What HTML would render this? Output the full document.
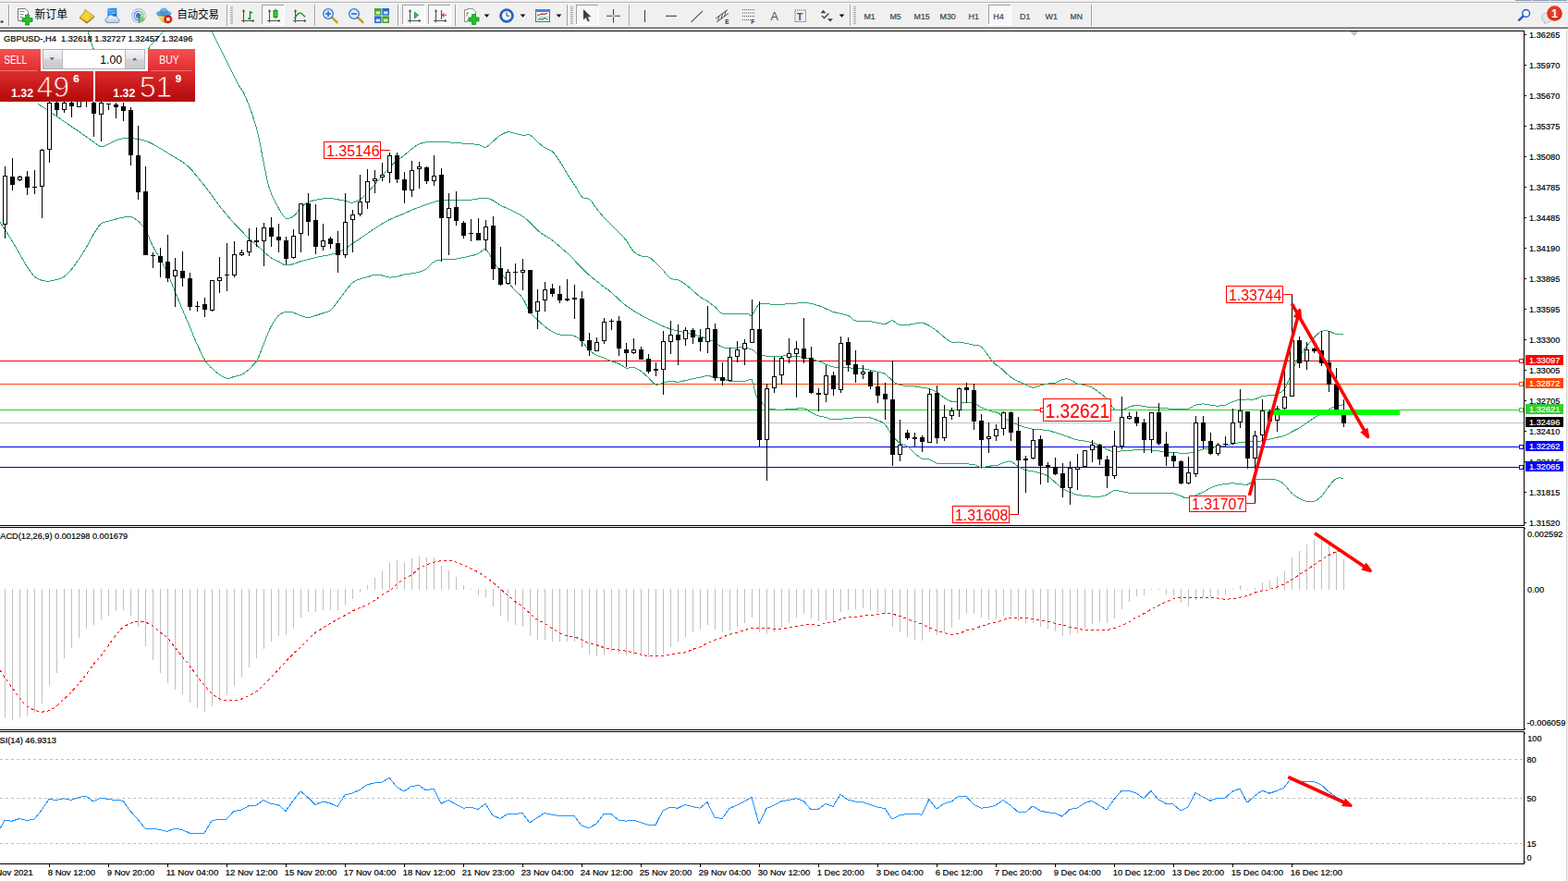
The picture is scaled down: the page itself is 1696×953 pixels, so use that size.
<!DOCTYPE html>
<html><head><meta charset="utf-8"><title>GBPUSD-,H4</title>
<style>
html,body{margin:0;padding:0;background:#fff;overflow:hidden}
body{width:1696px;height:953px;font-family:"Liberation Sans",sans-serif}
svg{display:block;position:absolute;left:0;top:0}
text{font-family:"Liberation Sans",sans-serif;white-space:pre}
</style></head><body>
<svg width="1696" height="953" viewBox="0 0 1696 953">
<rect x="0" y="0" width="1696" height="953" fill="#ffffff"/>
<!-- chart -->
<g shape-rendering="crispEdges">
<rect x="0" y="457" width="1648" height="1" fill="#c0c0c0"/>
<rect x="0" y="390" width="1648" height="1" fill="#ff0000"/>
<rect x="0" y="415" width="1648" height="1" fill="#ff4500"/>
<rect x="0" y="443" width="1118" height="1" fill="#32cd32"/>
<rect x="1202" y="443" width="446" height="1" fill="#32cd32"/>
<rect x="0" y="483" width="1648" height="1" fill="#0000f0"/>
<rect x="0" y="505" width="1648" height="1" fill="#0000f0"/>
</g>
<g fill="none" stroke="#2aa565" stroke-width="1" shape-rendering="crispEdges">
<path d="M263.4,100.0 C264.5,102.7 268.2,110.9 270.2,116.4 C272.2,121.8 274.0,127.3 275.7,132.8 C277.3,138.2 277.6,137.8 280.0,149.1 C282.5,160.5 287.1,188.7 290.5,201.0 C293.8,213.2 296.9,217.0 300.0,222.8 C303.1,228.6 306.1,234.1 309.0,235.9 C312.0,237.7 315.2,235.4 317.8,233.7 C320.4,232.0 322.0,228.0 324.6,225.5 C327.2,223.0 329.7,220.4 333.3,218.7 C337.0,217.0 342.4,216.1 346.4,215.4 C350.4,214.7 352.9,214.3 357.3,214.6 C361.8,214.9 369.2,216.6 373.2,217.3 C377.1,218.1 378.4,219.5 381.1,219.2 C383.7,219.0 386.3,217.7 389.0,216.0 C391.7,214.3 394.5,211.9 397.2,209.2 C399.9,206.4 402.5,202.7 405.1,199.6 C407.7,196.5 410.4,193.5 413.0,190.6 C415.6,187.6 418.2,184.7 420.9,181.9 C423.6,179.0 426.4,175.9 429.1,173.7 C431.8,171.4 434.4,170.3 437.0,168.2 C439.7,166.2 442.3,163.4 444.9,161.4 C447.6,159.3 450.4,157.2 453.1,155.9 C455.8,154.7 457.0,154.2 461.1,153.7 C465.1,153.3 470.7,153.2 477.4,153.5 C484.1,153.7 494.6,154.6 501.2,155.1 C507.8,155.6 513.0,155.8 517.0,156.5 C521.0,157.2 522.5,159.7 525.2,159.2 C527.9,158.7 530.5,155.3 533.1,153.2 C535.7,151.1 538.3,148.1 541.0,146.4 C543.7,144.7 546.4,143.2 549.2,142.8 C552.0,142.5 555.1,143.8 557.8,144.4 C560.5,144.9 562.7,145.9 565.3,146.2 C567.9,146.6 570.7,145.0 573.4,146.2 C576.0,147.5 578.6,151.2 581.4,153.5 C584.1,155.8 587.2,158.4 589.9,160.1 C592.6,161.9 594.8,161.4 597.4,163.9 C600.1,166.4 603.3,171.2 605.9,175.2 C608.6,179.3 612.0,185.5 613.5,188.0 C614.9,190.5 613.1,187.6 614.6,190.0 C616.2,192.4 620.3,198.4 622.8,202.3 C625.3,206.1 627.1,210.9 629.6,213.2 C632.1,215.5 635.2,213.9 637.8,215.9 C640.4,218.0 642.6,222.3 645.2,225.5 C647.7,228.7 650.5,232.1 653.1,235.0 C655.7,238.0 658.3,240.5 661.0,243.2 C663.7,245.9 666.5,248.7 669.2,251.4 C671.9,254.1 674.5,256.2 677.1,259.6 C679.7,263.0 682.3,269.0 685.0,271.9 C687.7,274.7 690.5,275.8 693.2,276.8 C695.9,277.8 698.5,276.7 701.1,277.9 C703.8,279.1 706.4,281.7 709.0,284.2 C711.7,286.6 714.5,289.5 717.2,292.4 C719.9,295.2 722.5,299.4 725.1,301.1 C727.8,302.8 730.4,301.7 733.1,302.7 C735.7,303.8 738.6,305.5 741.2,307.4 C743.9,309.3 746.5,311.9 749.2,314.2 C751.8,316.5 754.4,319.0 757.1,321.0 C759.8,323.0 762.6,324.1 765.3,325.9 C767.9,327.7 770.5,329.7 773.2,331.9 C775.8,334.1 778.4,338.1 781.1,339.3 C783.8,340.5 785.3,339.3 789.3,339.3 C793.3,339.3 801.7,339.2 805.1,339.3 C808.6,339.4 808.6,339.9 810.0,340.1 C811.4,340.3 811.8,342.4 813.6,340.6 C815.5,338.7 818.5,331.1 821.0,329.1 C823.6,327.1 825.6,328.5 828.9,328.6 C832.2,328.7 836.7,329.6 840.9,329.6 C845.2,329.6 849.1,328.9 854.6,328.6 C860.0,328.2 868.2,327.3 873.7,327.7 C879.1,328.2 882.8,329.7 887.3,331.3 C891.9,332.9 896.0,335.6 901.0,337.3 C906.0,339.0 913.4,339.8 917.4,341.4 C921.4,343.0 921.0,345.8 925.0,346.8 C929.0,347.9 935.8,347.1 941.1,347.7 C946.4,348.3 952.9,350.5 956.9,350.4 C960.9,350.3 962.4,346.7 965.1,346.8 C967.8,347.0 969.6,350.8 973.0,351.5 C976.4,352.2 981.6,351.3 985.6,350.9 C989.6,350.5 993.8,348.8 997.0,349.0 C1000.3,349.3 1002.3,350.8 1005.0,352.3 C1007.7,353.8 1010.5,355.7 1013.2,357.8 C1015.8,359.8 1018.4,362.5 1021.1,364.6 C1023.7,366.6 1026.3,369.1 1029.0,370.0 C1031.7,370.9 1034.5,369.8 1037.2,370.0 C1039.9,370.3 1042.5,370.9 1045.1,371.4 C1047.7,372.0 1050.3,372.7 1053.0,373.3 C1055.7,373.9 1058.5,373.0 1061.2,375.0 C1063.9,376.9 1066.5,381.8 1069.1,385.1 C1071.7,388.3 1075.2,392.8 1077.0,394.6 C1078.8,396.4 1077.4,393.8 1080.0,396.0 C1082.7,398.2 1089.4,405.0 1092.9,407.7 C1096.4,410.4 1098.4,411.0 1101.1,412.4 C1103.8,413.7 1106.4,414.8 1109.0,415.9 C1111.7,417.0 1114.3,419.0 1116.9,419.2 C1119.6,419.4 1122.4,417.7 1125.1,417.0 C1127.8,416.3 1130.4,415.5 1133.0,415.1 C1135.7,414.6 1138.3,415.0 1141.0,414.3 C1143.6,413.5 1146.5,411.1 1149.2,410.4 C1151.8,409.8 1154.4,409.7 1157.1,410.4 C1159.7,411.2 1162.3,414.1 1165.0,415.1 C1167.7,416.1 1170.5,415.8 1173.2,416.4 C1175.9,417.1 1178.4,417.8 1181.1,419.2 C1183.7,420.5 1186.3,422.6 1189.0,424.6 C1191.7,426.7 1194.5,428.5 1197.2,431.4 C1199.9,434.4 1202.5,440.3 1205.1,442.4 C1207.7,444.4 1210.4,444.0 1213.0,443.7 C1215.6,443.4 1218.2,441.4 1220.9,440.5 C1223.6,439.6 1226.4,438.4 1229.1,438.3 C1231.8,438.1 1234.4,439.3 1237.0,439.6 C1239.7,440.0 1242.3,440.2 1245.0,440.5 C1247.6,440.7 1250.4,440.8 1253.1,441.0 C1255.8,441.2 1258.4,441.6 1261.0,441.8 C1263.7,442.0 1266.3,442.2 1269.0,442.4 C1271.6,442.6 1274.5,442.9 1277.2,442.9 C1279.8,442.9 1282.4,443.1 1285.1,442.4 C1287.7,441.6 1290.3,439.2 1293.0,438.3 C1295.7,437.4 1298.5,436.9 1301.2,436.9 C1303.9,436.9 1306.4,437.9 1309.1,438.3 C1311.7,438.6 1314.3,439.1 1317.0,439.1 C1319.7,439.1 1322.5,439.0 1325.2,438.3 C1327.9,437.6 1330.5,435.7 1333.1,434.7 C1335.7,433.7 1338.3,432.7 1341.0,432.3 C1343.7,431.8 1346.5,432.1 1349.2,432.0 C1351.9,431.9 1354.5,432.4 1357.1,431.8 C1359.8,431.3 1362.4,429.5 1365.0,428.8 C1367.7,428.1 1370.3,428.1 1373.0,427.7 C1375.6,427.3 1378.5,427.4 1381.1,426.4 C1383.8,425.3 1387.0,423.9 1389.0,421.4 C1391.1,419.0 1392.0,415.8 1393.7,411.9 C1395.4,408.0 1397.3,402.6 1399.2,398.2 C1401.0,393.9 1402.6,389.8 1404.9,386.0 C1407.2,382.1 1410.4,378.5 1413.1,375.1 C1415.8,371.6 1418.3,368.2 1421.0,365.5 C1423.6,362.8 1426.2,359.9 1428.9,358.7 C1431.6,357.5 1434.4,357.7 1437.1,358.1 C1439.8,358.6 1442.4,360.9 1445.0,361.4 C1447.6,362.0 1451.6,361.4 1452.9,361.4"/>
<path d="M40.9,112.3 C43.0,113.6 48.8,117.3 53.5,120.5 C58.2,123.7 64.0,127.8 69.3,131.4 C74.6,135.0 80.1,138.6 85.4,142.3 C90.8,146.0 97.5,151.0 101.5,153.8 C105.5,156.5 106.8,158.3 109.4,158.7 C112.1,159.0 114.7,157.1 117.4,155.9 C120.0,154.8 122.9,152.9 125.5,151.9 C128.2,150.8 130.8,150.0 133.5,149.7 C136.1,149.3 138.7,149.5 141.4,149.7 C144.1,149.8 146.9,150.0 149.6,150.5 C152.2,150.9 154.8,151.5 157.5,152.4 C160.1,153.3 162.8,154.6 165.4,155.9 C168.0,157.3 170.6,159.0 173.3,160.6 C176.0,162.2 178.8,163.9 181.5,165.5 C184.2,167.1 186.8,168.8 189.4,170.4 C192.0,172.0 194.6,173.1 197.3,175.1 C200.0,177.0 202.8,179.2 205.5,181.9 C208.2,184.6 210.8,188.2 213.4,191.4 C216.1,194.6 218.7,197.6 221.3,201.0 C224.0,204.4 226.8,208.3 229.5,211.9 C232.2,215.5 234.8,219.4 237.4,222.8 C240.1,226.2 242.7,229.2 245.4,232.4 C248.0,235.6 250.9,239.0 253.6,241.9 C256.2,244.9 258.8,247.4 261.5,250.1 C264.1,252.8 266.7,255.8 269.4,258.3 C272.1,260.8 275.0,262.9 277.6,265.1 C280.2,267.4 282.4,269.7 285.0,271.9 C287.6,274.2 290.2,276.9 292.9,278.7 C295.6,280.6 298.4,281.5 301.1,282.8 C303.8,284.2 306.4,286.5 309.0,286.9 C311.7,287.4 314.3,286.3 316.9,285.6 C319.6,284.9 321.1,284.0 325.1,282.8 C329.1,281.7 335.6,280.0 341.0,278.7 C346.3,277.5 353.1,276.4 357.1,275.5 C361.1,274.6 362.3,274.3 365.0,273.3 C367.7,272.2 370.5,270.8 373.2,269.2 C375.9,267.6 378.4,265.5 381.1,263.7 C383.7,261.9 385.0,261.0 389.0,258.3 C393.0,255.6 399.8,250.8 405.1,247.4 C410.4,243.9 415.6,240.5 420.9,237.8 C426.3,235.1 431.7,233.3 437.0,231.0 C442.4,228.7 447.8,226.2 453.1,224.2 C458.5,222.1 465.0,219.9 469.0,218.7 C473.0,217.5 473.1,217.1 477.1,216.8 C481.2,216.5 487.7,216.9 493.0,216.8 C498.3,216.7 503.7,216.7 509.1,216.2 C514.4,215.8 521.2,214.0 525.2,214.1 C529.2,214.2 530.5,215.5 533.1,216.8 C535.7,218.1 538.3,220.5 541.0,222.0 C543.7,223.4 546.5,224.3 549.2,225.5 C551.9,226.8 554.4,228.2 557.0,229.6 C559.6,230.9 562.2,231.8 564.9,233.7 C567.6,235.5 570.4,238.0 573.1,240.5 C575.8,243.0 578.4,246.3 581.0,248.7 C583.7,251.0 586.3,252.9 589.0,254.7 C591.6,256.5 594.5,257.6 597.1,259.6 C599.8,261.6 602.4,264.1 605.0,266.4 C607.7,268.7 610.3,270.7 613.0,273.2 C615.7,275.7 618.5,278.7 621.2,281.4 C623.8,284.2 626.4,287.0 629.1,289.6 C631.7,292.3 634.3,294.9 637.0,297.3 C639.7,299.7 642.5,301.9 645.2,304.1 C647.9,306.2 650.5,308.1 653.1,310.1 C655.7,312.1 658.3,313.8 661.0,316.1 C663.7,318.4 666.5,321.3 669.2,323.7 C671.9,326.1 674.5,328.5 677.1,330.6 C679.7,332.6 682.3,334.3 685.0,336.0 C687.7,337.7 690.5,339.4 693.2,340.9 C695.9,342.4 698.5,343.7 701.1,345.0 C703.8,346.4 706.4,347.8 709.0,349.1 C711.7,350.4 714.5,351.8 717.2,352.9 C719.9,354.1 722.5,355.1 725.1,355.9 C727.8,356.8 730.4,357.2 733.1,357.9 C735.7,358.5 738.6,359.1 741.2,359.8 C743.9,360.4 746.5,361.3 749.2,361.9 C751.8,362.6 754.4,363.0 757.1,363.9 C759.8,364.7 762.6,365.8 765.3,366.9 C767.9,367.9 770.5,368.7 773.2,370.1 C775.8,371.6 778.4,374.5 781.1,375.6 C783.8,376.7 786.6,376.9 789.3,376.9 C792.0,377.0 794.6,376.3 797.2,376.1 C799.8,376.0 802.4,375.8 805.1,376.1 C807.9,376.5 811.0,377.0 813.6,378.2 C816.3,379.5 817.1,382.4 821.0,383.7 C824.9,385.0 833.1,385.6 837.1,385.9 C841.1,386.1 842.1,385.2 845.0,385.1 C847.9,384.9 850.6,384.8 854.6,385.1 C858.6,385.3 864.0,385.5 869.0,386.4 C874.1,387.3 879.6,388.8 884.9,390.5 C890.2,392.2 895.6,395.6 901.0,396.8 C906.3,398.0 911.8,397.6 917.1,397.9 C922.4,398.2 927.6,398.0 932.9,398.7 C938.2,399.4 945.0,401.3 949.0,402.2 C953.0,403.2 954.2,402.6 956.9,404.2 C959.6,405.7 962.4,409.5 965.1,411.5 C967.8,413.6 969.0,415.4 973.0,416.4 C977.0,417.5 985.1,417.4 989.1,417.8 C993.1,418.3 994.4,418.7 997.0,419.2 C999.7,419.6 1002.3,419.7 1005.0,420.5 C1007.7,421.3 1010.5,422.5 1013.2,424.1 C1015.8,425.7 1018.4,428.4 1021.1,430.1 C1023.7,431.8 1026.3,433.4 1029.0,434.2 C1031.7,435.0 1034.5,434.8 1037.2,435.0 C1039.9,435.2 1042.5,435.4 1045.1,435.6 C1047.7,435.7 1050.3,435.3 1053.0,436.1 C1055.7,436.9 1058.5,439.2 1061.2,440.5 C1063.9,441.7 1066.5,442.8 1069.1,443.7 C1071.7,444.6 1075.2,445.5 1077.0,445.9 C1078.8,446.4 1078.7,445.5 1080.0,446.5 C1081.4,447.4 1082.9,449.8 1085.0,451.4 C1087.2,453.0 1090.2,454.7 1092.9,456.0 C1095.6,457.4 1098.4,458.5 1101.1,459.6 C1103.8,460.6 1106.4,461.5 1109.0,462.3 C1111.7,463.1 1114.3,463.8 1116.9,464.2 C1119.6,464.6 1122.4,464.5 1125.1,464.8 C1127.8,465.0 1130.4,465.1 1133.0,465.6 C1135.7,466.1 1138.3,466.9 1141.0,467.8 C1143.6,468.6 1146.5,469.6 1149.2,470.5 C1151.8,471.4 1154.4,472.3 1157.1,473.2 C1159.7,474.1 1162.3,475.3 1165.0,475.9 C1167.7,476.6 1170.5,476.6 1173.2,477.0 C1175.9,477.5 1178.4,477.9 1181.1,478.7 C1183.7,479.5 1186.3,480.7 1189.0,481.9 C1191.7,483.2 1194.5,484.9 1197.2,486.0 C1199.9,487.2 1202.5,488.5 1205.1,488.8 C1207.7,489.1 1210.4,488.2 1213.0,487.9 C1215.6,487.7 1218.2,487.6 1220.9,487.4 C1223.6,487.2 1226.4,486.8 1229.1,486.6 C1231.8,486.4 1234.4,486.0 1237.0,486.0 C1239.7,486.1 1242.3,486.5 1245.0,486.9 C1247.6,487.2 1250.4,487.6 1253.1,487.9 C1255.8,488.3 1258.4,488.5 1261.0,488.8 C1263.7,489.0 1266.3,489.4 1269.0,489.6 C1271.6,489.8 1274.5,490.0 1277.2,490.1 C1279.8,490.2 1282.4,490.4 1285.1,490.1 C1287.7,489.9 1290.3,489.5 1293.0,488.8 C1295.7,488.1 1298.5,486.7 1301.2,486.0 C1303.9,485.4 1306.4,485.1 1309.1,484.7 C1311.7,484.2 1314.3,483.8 1317.0,483.3 C1319.7,482.9 1322.5,482.4 1325.2,481.9 C1327.9,481.5 1330.5,481.1 1333.1,480.6 C1335.7,480.0 1338.3,479.1 1341.0,478.7 C1343.7,478.2 1346.5,478.1 1349.2,477.9 C1351.9,477.6 1354.5,477.6 1357.1,477.4 C1359.8,477.2 1362.4,477.2 1365.0,476.9 C1367.7,476.5 1370.3,475.8 1373.0,475.2 C1375.6,474.6 1378.5,473.9 1381.1,473.3 C1383.8,472.7 1386.4,472.4 1389.0,471.4 C1391.7,470.4 1394.3,468.7 1397.0,467.3 C1399.6,465.9 1402.2,464.8 1404.9,463.2 C1407.6,461.6 1410.4,459.6 1413.1,457.8 C1415.8,455.9 1418.3,453.9 1421.0,452.3 C1423.6,450.7 1426.2,449.4 1428.9,447.9 C1431.6,446.4 1434.4,444.7 1437.1,443.3 C1439.8,441.8 1442.4,440.1 1445.0,439.2 C1447.6,438.3 1451.6,438.1 1452.9,437.8"/>
<path d="M0.0,240.6 C0.9,241.9 3.2,245.3 5.5,248.7 C7.7,252.2 10.7,256.7 13.4,261.0 C16.0,265.4 18.7,270.1 21.3,274.7 C23.9,279.2 26.5,284.2 29.2,288.3 C31.9,292.4 34.7,296.7 37.4,299.2 C40.1,301.7 42.6,302.5 45.3,303.3 C48.0,304.1 50.8,304.3 53.5,304.1 C56.2,304.0 58.8,303.3 61.4,302.5 C64.0,301.7 66.6,301.1 69.3,299.2 C72.0,297.3 74.8,294.2 77.5,291.1 C80.2,287.9 82.8,284.0 85.4,280.1 C88.1,276.3 90.7,272.4 93.3,267.9 C96.0,263.3 98.8,257.2 101.5,252.8 C104.2,248.5 106.8,244.2 109.4,241.9 C112.1,239.6 114.7,240.0 117.4,239.2 C120.0,238.4 122.9,237.7 125.5,237.0 C128.2,236.3 130.8,235.6 133.5,235.1 C136.1,234.6 138.7,233.6 141.4,234.3 C144.1,235.0 146.9,236.8 149.6,239.2 C152.2,241.6 154.8,244.2 157.5,248.7 C160.1,253.3 162.8,261.2 165.4,266.5 C168.0,271.7 170.6,275.1 173.3,280.1 C176.0,285.1 178.8,290.6 181.5,296.5 C184.2,302.4 186.8,309.2 189.4,315.6 C192.0,322.0 194.6,328.4 197.3,334.7 C200.0,341.1 203.7,349.6 205.5,353.8 C207.3,358.1 206.6,356.8 208.0,360.1 C209.3,363.4 211.3,368.4 213.6,373.4 C216.0,378.5 219.4,386.2 222.1,390.4 C224.8,394.7 227.1,396.5 229.7,398.9 C232.2,401.4 234.5,403.3 237.2,405.1 C239.9,406.8 243.0,408.9 245.7,409.3 C248.4,409.7 250.8,408.1 253.3,407.4 C255.8,406.8 258.3,406.7 260.8,405.5 C263.3,404.4 265.7,402.7 268.4,400.4 C271.1,398.0 275.2,393.1 276.9,391.4 C278.5,389.7 276.8,393.2 278.2,390.1 C279.5,387.0 282.6,378.9 285.0,372.9 C287.5,366.8 290.2,359.0 292.9,353.8 C295.6,348.6 298.4,344.2 301.1,341.5 C303.8,338.8 306.4,338.0 309.0,337.4 C311.7,336.8 314.3,337.3 316.9,338.0 C319.6,338.7 322.4,340.6 325.1,341.5 C327.8,342.4 330.4,343.4 333.1,343.4 C335.7,343.4 338.3,342.3 341.0,341.5 C343.6,340.7 346.5,339.7 349.1,338.8 C351.8,337.9 354.4,338.1 357.1,336.1 C359.7,334.0 362.3,329.9 365.0,326.5 C367.7,323.1 370.5,319.0 373.2,315.6 C375.9,312.2 378.4,308.3 381.1,306.0 C383.7,303.8 386.3,303.0 389.0,301.9 C391.7,300.9 394.5,300.5 397.2,299.8 C399.9,299.0 402.5,297.6 405.1,297.3 C407.7,297.0 410.4,297.4 413.0,297.9 C415.6,298.3 418.2,299.8 420.9,300.0 C423.6,300.3 426.4,299.7 429.1,299.2 C431.8,298.7 434.4,297.6 437.0,297.0 C439.7,296.5 442.3,296.4 444.9,295.9 C447.6,295.5 450.4,295.1 453.1,294.3 C455.8,293.5 458.4,292.8 461.1,291.0 C463.7,289.2 466.3,285.1 469.0,283.4 C471.6,281.7 473.1,281.5 477.1,280.9 C481.2,280.4 487.7,280.8 493.0,280.1 C498.3,279.4 505.1,277.7 509.1,276.8 C513.1,275.9 514.3,275.8 517.0,274.6 C519.7,273.5 522.5,268.6 525.2,269.7 C527.9,270.9 530.5,277.5 533.1,281.5 C535.7,285.5 538.3,289.9 541.0,293.8 C543.7,297.6 546.5,301.3 549.2,304.7 C551.9,308.1 554.4,311.3 557.0,314.2 C559.6,317.0 562.2,318.0 564.9,321.8 C567.6,325.7 570.4,333.4 573.1,337.4 C575.8,341.3 578.4,343.0 581.0,345.6 C583.7,348.2 586.3,350.8 589.0,352.9 C591.6,355.1 594.5,357.2 597.1,358.7 C599.8,360.2 602.4,361.3 605.0,361.9 C607.7,362.6 610.3,362.5 613.0,362.8 C615.7,363.0 618.5,362.3 621.2,363.3 C623.8,364.3 626.4,366.3 629.1,368.8 C631.7,371.3 634.3,375.7 637.0,378.3 C639.7,380.9 642.5,382.9 645.2,384.3 C647.9,385.8 650.5,386.0 653.1,387.1 C655.7,388.1 658.3,389.6 661.0,390.6 C663.7,391.6 666.5,392.1 669.2,393.3 C671.9,394.6 674.5,397.3 677.1,398.0 C679.7,398.7 682.3,396.8 685.0,397.4 C687.7,398.0 690.5,399.7 693.2,401.5 C695.9,403.3 698.5,405.9 701.1,408.3 C703.8,410.8 706.4,415.0 709.0,416.0 C711.7,417.0 714.5,414.9 717.2,414.3 C719.9,413.7 722.5,412.6 725.1,412.4 C727.8,412.2 730.4,413.4 733.1,413.2 C735.7,413.1 738.6,412.2 741.2,411.6 C743.9,411.0 746.5,410.3 749.2,409.7 C751.8,409.2 754.4,408.9 757.1,408.3 C759.8,407.8 762.6,406.4 765.3,406.4 C767.9,406.4 770.5,407.9 773.2,408.3 C775.8,408.8 778.4,408.5 781.1,409.2 C783.8,409.8 786.6,411.9 789.3,412.4 C792.0,413.0 794.6,412.4 797.2,412.4 C799.8,412.4 803.0,412.7 805.1,412.4 C807.2,412.2 808.6,411.2 810.0,411.1 C811.4,410.9 812.4,408.8 813.6,411.5 C814.9,414.2 816.5,424.0 817.7,427.4 C819.0,430.7 819.2,429.2 821.0,431.4 C822.9,433.7 826.2,439.1 828.9,441.0 C831.6,442.9 833.1,442.6 837.1,442.9 C841.1,443.2 847.6,443.1 853.0,442.9 C858.3,442.7 865.0,441.3 869.0,441.8 C873.1,442.3 874.3,444.6 877.0,445.9 C879.6,447.2 882.2,448.8 884.9,449.7 C887.6,450.6 890.4,450.7 893.1,451.4 C895.8,452.1 897.0,453.6 901.0,453.8 C905.0,454.0 911.8,452.9 917.1,452.5 C922.4,452.1 928.9,451.5 932.9,451.4 C936.9,451.3 938.4,451.4 941.1,451.9 C943.8,452.5 946.4,453.5 949.0,454.6 C951.7,455.8 954.2,456.0 956.9,458.7 C959.6,461.5 962.4,467.6 965.1,471.0 C967.8,474.4 970.4,477.3 973.0,479.2 C975.7,481.1 978.3,480.7 981.0,482.5 C983.6,484.3 986.5,487.9 989.1,490.1 C991.8,492.4 994.4,495.0 997.0,496.1 C999.7,497.3 1002.3,496.1 1005.0,496.9 C1007.7,497.8 1010.5,500.3 1013.2,501.1 C1015.8,501.8 1017.1,501.5 1021.1,501.6 C1025.1,501.7 1031.8,501.7 1037.2,501.9 C1042.5,502.0 1049.0,501.7 1053.0,502.4 C1057.0,503.1 1058.5,505.6 1061.2,506.0 C1063.9,506.3 1066.0,504.8 1069.1,504.3 C1072.2,503.8 1077.4,503.6 1080.0,503.0 C1082.7,502.3 1082.9,501.1 1085.0,500.5 C1087.2,499.9 1090.2,498.5 1092.9,499.1 C1095.6,499.8 1098.4,502.8 1101.1,504.3 C1103.8,505.9 1106.4,507.5 1109.0,508.4 C1111.7,509.3 1114.3,509.2 1116.9,509.8 C1119.6,510.4 1122.4,511.2 1125.1,512.0 C1127.8,512.8 1130.4,513.1 1133.0,514.7 C1135.7,516.3 1138.3,519.2 1141.0,521.5 C1143.6,523.8 1146.5,526.5 1149.2,528.3 C1151.8,530.2 1154.4,531.3 1157.1,532.4 C1159.7,533.6 1162.3,534.5 1165.0,535.2 C1167.7,535.8 1170.5,536.2 1173.2,536.5 C1175.9,536.8 1178.4,536.9 1181.1,537.1 C1183.7,537.2 1186.3,537.7 1189.0,537.4 C1191.7,537.0 1194.5,536.3 1197.2,535.2 C1199.9,534.0 1202.5,531.1 1205.1,530.5 C1207.7,529.9 1210.4,531.2 1213.0,531.6 C1215.6,532.1 1218.2,532.9 1220.9,533.2 C1223.6,533.6 1226.4,533.7 1229.1,533.8 C1231.8,533.9 1234.4,533.9 1237.0,533.8 C1239.7,533.7 1242.3,533.0 1245.0,533.0 C1247.6,533.0 1250.4,533.7 1253.1,533.8 C1255.8,533.9 1258.4,533.8 1261.0,533.8 C1263.7,533.8 1266.3,533.3 1269.0,533.8 C1271.6,534.3 1274.5,535.7 1277.2,536.5 C1279.8,537.3 1281.1,539.4 1285.1,538.7 C1289.1,538.0 1297.2,534.2 1301.2,532.4 C1305.2,530.6 1306.4,529.0 1309.1,527.8 C1311.7,526.6 1314.3,525.8 1317.0,525.1 C1319.7,524.3 1322.5,523.8 1325.2,523.4 C1327.9,523.1 1330.5,522.9 1333.1,522.9 C1335.7,522.9 1338.3,523.2 1341.0,523.4 C1343.7,523.7 1346.5,525.0 1349.2,524.2 C1351.9,523.5 1354.5,520.1 1357.1,519.2 C1359.8,518.2 1362.4,518.5 1365.0,518.3 C1367.7,518.2 1370.3,518.2 1373.0,518.3 C1375.6,518.5 1378.5,518.2 1381.1,519.2 C1383.8,520.1 1386.4,521.4 1389.0,523.8 C1391.7,526.2 1394.3,530.8 1397.0,533.4 C1399.6,535.9 1402.2,537.3 1404.9,538.8 C1407.6,540.3 1410.4,541.8 1413.1,542.4 C1415.8,543.0 1418.3,543.2 1421.0,542.4 C1423.6,541.5 1426.2,540.1 1428.9,537.5 C1431.6,534.8 1434.4,529.8 1437.1,526.5 C1439.8,523.3 1442.4,519.3 1445.0,517.8 C1447.6,516.2 1451.6,517.3 1452.9,517.2"/>
<path d="M88,33 L95,34 L100,50 L104,60 M158,60 L162,50 L177,34 L180,33 M226,33 L229,34 L240,56 L258,92 L263.4,100"/>
</g>
<g shape-rendering="crispEdges">
<path d="M5,180h1v78h-1zM13,171h1v35h-1zM21,190h1v6h-1zM29,185h1v26h-1zM37,184h1v26h-1zM45,161h1v75h-1zM53,108h1v68h-1zM61,108h1v17h-1zM69,108h1v14h-1zM77,108h1v19h-1zM85,108h1v8h-1zM93,108h1v8h-1zM101,108h1v40h-1zM109,108h1v45h-1zM117,112h1v7h-1zM125,111h1v17h-1zM133,111h1v20h-1zM141,116h1v63h-1zM149,136h1v80h-1zM157,180h1v96h-1zM165,273h1v17h-1zM173,268h1v32h-1zM181,254h1v51h-1zM189,279h1v53h-1zM197,272h1v38h-1zM205,295h1v41h-1zM213,326h1v11h-1zM221,322h1v21h-1zM229,303h1v34h-1zM237,278h1v39h-1zM245,263h1v52h-1zM253,261h1v39h-1zM261,270h1v7h-1zM269,247h1v30h-1zM277,246h1v21h-1zM285,241h1v47h-1zM293,235h1v32h-1zM301,242h1v31h-1zM309,256h1v30h-1zM317,248h1v32h-1zM325,220h1v53h-1zM333,209h1v46h-1zM341,221h1v54h-1zM349,242h1v29h-1zM357,256h1v13h-1zM365,250h1v45h-1zM373,209h1v70h-1zM381,227h1v46h-1zM389,189h1v45h-1zM397,183h1v43h-1zM405,184h1v25h-1zM413,176h1v20h-1zM421,165h1v33h-1zM429,165h1v33h-1zM437,186h1v34h-1zM445,174h1v39h-1zM453,175h1v29h-1zM461,180h1v19h-1zM469,168h1v33h-1zM477,182h1v101h-1zM485,209h1v67h-1zM493,207h1v37h-1zM501,239h1v19h-1zM509,237h1v24h-1zM517,236h1v24h-1zM525,238h1v33h-1zM533,234h1v69h-1zM541,267h1v42h-1zM549,291h1v17h-1zM557,285h1v23h-1zM565,280h1v34h-1zM573,292h1v47h-1zM581,313h1v43h-1zM589,305h1v32h-1zM597,307h1v14h-1zM605,309h1v19h-1zM613,302h1v24h-1zM621,308h1v37h-1zM629,315h1v60h-1zM637,360h1v25h-1zM645,365h1v15h-1zM653,344h1v28h-1zM661,345h1v12h-1zM669,342h1v43h-1zM677,371h1v26h-1zM685,366h1v17h-1zM693,375h1v14h-1zM701,383h1v21h-1zM709,392h1v15h-1zM717,358h1v69h-1zM725,347h1v36h-1zM733,351h1v44h-1zM741,354h1v20h-1zM749,355h1v17h-1zM757,356h1v24h-1zM765,331h1v51h-1zM773,350h1v62h-1zM781,392h1v25h-1zM789,376h1v36h-1zM797,369h1v23h-1zM805,367h1v28h-1zM813,324h1v47h-1zM821,326h1v157h-1zM829,415h1v105h-1zM837,386h1v39h-1zM845,385h1v31h-1zM853,366h1v27h-1zM861,369h1v61h-1zM869,344h1v49h-1zM877,375h1v51h-1zM885,420h1v25h-1zM893,395h1v40h-1zM901,402h1v26h-1zM909,364h1v61h-1zM917,365h1v37h-1zM925,379h1v35h-1zM933,395h1v15h-1zM941,401h1v20h-1zM949,403h1v33h-1zM957,414h1v40h-1zM965,390h1v114h-1zM973,454h1v45h-1zM981,465h1v11h-1zM989,468h1v15h-1zM997,471h1v18h-1zM1005,420h1v59h-1zM1013,417h1v63h-1zM1021,438h1v39h-1zM1029,441h1v13h-1zM1037,419h1v32h-1zM1045,414h1v22h-1zM1053,415h1v50h-1zM1061,448h1v58h-1zM1069,457h1v33h-1zM1077,459h1v18h-1zM1085,445h1v26h-1zM1093,445h1v32h-1zM1101,451h1v105h-1zM1109,493h1v40h-1zM1117,464h1v33h-1zM1125,471h1v53h-1zM1133,500h1v22h-1zM1141,495h1v19h-1zM1149,501h1v37h-1zM1157,499h1v47h-1zM1165,491h1v39h-1zM1173,487h1v19h-1zM1181,476h1v24h-1zM1189,480h1v23h-1zM1197,493h1v35h-1zM1205,466h1v52h-1zM1213,429h1v57h-1zM1221,446h1v8h-1zM1229,445h1v16h-1zM1237,453h1v37h-1zM1245,446h1v44h-1zM1253,436h1v46h-1zM1261,467h1v37h-1zM1269,489h1v17h-1zM1277,498h1v26h-1zM1285,494h1v30h-1zM1293,450h1v66h-1zM1301,450h1v36h-1zM1309,468h1v24h-1zM1317,479h1v14h-1zM1325,472h1v12h-1zM1333,442h1v39h-1zM1341,421h1v42h-1zM1349,445h1v62h-1zM1357,466h1v78h-1zM1365,432h1v54h-1zM1373,443h1v14h-1zM1381,439h1v28h-1zM1389,400h1v43h-1zM1397,319h1v110h-1zM1405,364h1v34h-1zM1413,370h1v30h-1zM1421,376h1v6h-1zM1429,358h1v38h-1zM1437,358h1v66h-1zM1445,398h1v46h-1zM1453,432h1v30h-1z" fill="#000"/>
<path d="M3,190h5v53h-5zM11,191h5v9h-5zM19,191h5v4h-5zM27,191h5v12h-5zM35,202h5v1h-5zM43,162h5v40h-5zM51,111h5v51h-5zM59,111h5v8h-5zM67,111h5v8h-5zM75,111h5v4h-5zM83,108h5v8h-5zM91,108h5v1h-5zM99,111h5v12h-5zM107,111h5v13h-5zM115,112h5v1h-5zM123,113h5v3h-5zM131,115h5v5h-5zM139,119h5v49h-5zM147,168h5v40h-5zM155,207h5v69h-5zM163,276h5v1h-5zM171,277h5v7h-5zM179,283h5v18h-5zM187,292h5v7h-5zM195,293h5v8h-5zM203,301h5v31h-5zM211,331h5v1h-5zM219,329h5v6h-5zM227,303h5v33h-5zM235,300h5v4h-5zM243,297h5v1h-5zM251,275h5v23h-5zM259,273h5v3h-5zM267,260h5v13h-5zM275,260h5v2h-5zM283,246h5v15h-5zM291,246h5v10h-5zM299,256h5v4h-5zM307,260h5v20h-5zM315,255h5v24h-5zM323,220h5v33h-5zM331,220h5v20h-5zM339,238h5v29h-5zM347,260h5v7h-5zM355,258h5v6h-5zM363,263h5v13h-5zM371,240h5v36h-5zM379,232h5v6h-5zM387,218h5v14h-5zM395,196h5v23h-5zM403,193h5v3h-5zM411,189h5v3h-5zM419,168h5v19h-5zM427,168h5v26h-5zM435,194h5v12h-5zM443,184h5v22h-5zM451,180h5v3h-5zM459,181h5v15h-5zM467,190h5v6h-5zM475,189h5v47h-5zM483,225h5v11h-5zM491,224h5v15h-5zM499,241h5v14h-5zM507,252h5v1h-5zM515,252h5v8h-5zM523,245h5v15h-5zM531,244h5v47h-5zM539,290h5v18h-5zM547,294h5v13h-5zM555,294h5v1h-5zM563,292h5v3h-5zM571,292h5v47h-5zM579,326h5v11h-5zM587,313h5v12h-5zM595,312h5v6h-5zM603,318h5v7h-5zM611,323h5v2h-5zM619,322h5v2h-5zM627,323h5v46h-5zM635,368h5v11h-5zM643,370h5v10h-5zM651,348h5v21h-5zM659,347h5v1h-5zM667,347h5v30h-5zM675,378h5v4h-5zM683,378h5v4h-5zM691,378h5v11h-5zM699,388h5v14h-5zM707,399h5v2h-5zM715,369h5v31h-5zM723,362h5v8h-5zM731,362h5v6h-5zM739,357h5v10h-5zM747,357h5v8h-5zM755,365h5v5h-5zM763,355h5v15h-5zM771,356h5v53h-5zM779,408h5v4h-5zM787,386h5v26h-5zM795,378h5v8h-5zM803,371h5v7h-5zM811,356h5v15h-5zM819,356h5v120h-5zM827,420h5v56h-5zM835,407h5v13h-5zM843,387h5v19h-5zM851,382h5v5h-5zM859,377h5v6h-5zM867,377h5v11h-5zM875,387h5v38h-5zM883,425h5v2h-5zM891,406h5v21h-5zM899,406h5v15h-5zM907,371h5v51h-5zM915,370h5v25h-5zM923,394h5v11h-5zM931,402h5v3h-5zM939,402h5v16h-5zM947,418h5v10h-5zM955,426h5v6h-5zM963,432h5v60h-5zM971,481h5v11h-5zM979,468h5v6h-5zM987,473h5v2h-5zM995,473h5v5h-5zM1003,426h5v53h-5zM1011,425h5v49h-5zM1019,451h5v23h-5zM1027,444h5v6h-5zM1035,420h5v24h-5zM1043,419h5v3h-5zM1051,422h5v34h-5zM1059,455h5v21h-5zM1067,472h5v3h-5zM1075,464h5v8h-5zM1083,446h5v18h-5zM1091,446h5v22h-5zM1099,466h5v32h-5zM1107,496h5v2h-5zM1115,476h5v20h-5zM1123,475h5v29h-5zM1131,503h5v2h-5zM1139,505h5v8h-5zM1147,512h5v16h-5zM1155,506h5v22h-5zM1163,505h5v3h-5zM1171,487h5v18h-5zM1179,481h5v6h-5zM1187,481h5v16h-5zM1195,497h5v18h-5zM1203,482h5v33h-5zM1211,451h5v32h-5zM1219,450h5v3h-5zM1227,451h5v7h-5zM1235,457h5v19h-5zM1243,446h5v30h-5zM1251,446h5v34h-5zM1259,480h5v14h-5zM1267,493h5v6h-5zM1275,499h5v24h-5zM1283,511h5v12h-5zM1291,457h5v56h-5zM1299,457h5v20h-5zM1307,477h5v14h-5zM1315,481h5v10h-5zM1323,480h5v1h-5zM1331,457h5v23h-5zM1339,444h5v13h-5zM1347,445h5v51h-5zM1355,471h5v25h-5zM1363,444h5v27h-5zM1371,445h5v11h-5zM1379,442h5v13h-5zM1387,429h5v13h-5zM1395,368h5v61h-5zM1403,368h5v25h-5zM1411,378h5v13h-5zM1419,377h5v3h-5zM1427,379h5v14h-5zM1435,392h5v24h-5zM1443,416h5v27h-5zM1451,444h5v14h-5z" fill="#000"/>
<path d="M4,191h3v51h-3zM20,192h3v2h-3zM44,163h3v38h-3zM52,112h3v49h-3zM68,112h3v6h-3zM84,109h3v6h-3zM108,112h3v11h-3zM188,293h3v5h-3zM228,304h3v31h-3zM236,301h3v2h-3zM252,276h3v21h-3zM260,274h3v1h-3zM268,261h3v11h-3zM284,247h3v13h-3zM316,256h3v22h-3zM324,221h3v31h-3zM348,261h3v5h-3zM372,241h3v34h-3zM380,233h3v4h-3zM388,219h3v12h-3zM396,197h3v21h-3zM404,194h3v1h-3zM412,190h3v1h-3zM420,169h3v17h-3zM444,185h3v20h-3zM452,181h3v1h-3zM468,191h3v4h-3zM484,226h3v9h-3zM524,246h3v13h-3zM548,295h3v11h-3zM564,293h3v1h-3zM580,327h3v9h-3zM588,314h3v10h-3zM644,371h3v8h-3zM652,349h3v19h-3zM684,379h3v2h-3zM716,370h3v29h-3zM724,363h3v6h-3zM740,358h3v8h-3zM764,356h3v13h-3zM788,387h3v24h-3zM796,379h3v6h-3zM804,372h3v5h-3zM812,357h3v13h-3zM828,421h3v54h-3zM836,408h3v11h-3zM844,388h3v17h-3zM852,383h3v3h-3zM860,378h3v4h-3zM892,407h3v19h-3zM908,372h3v49h-3zM932,403h3v1h-3zM972,482h3v9h-3zM1004,427h3v51h-3zM1020,452h3v21h-3zM1028,445h3v4h-3zM1036,421h3v22h-3zM1068,473h3v1h-3zM1076,465h3v6h-3zM1084,447h3v16h-3zM1116,477h3v18h-3zM1156,507h3v20h-3zM1164,506h3v1h-3zM1172,488h3v16h-3zM1180,482h3v4h-3zM1204,483h3v31h-3zM1212,452h3v30h-3zM1220,451h3v1h-3zM1244,447h3v28h-3zM1284,512h3v10h-3zM1292,458h3v54h-3zM1316,482h3v8h-3zM1332,458h3v21h-3zM1340,445h3v11h-3zM1356,472h3v23h-3zM1364,445h3v25h-3zM1380,443h3v11h-3zM1388,430h3v11h-3zM1396,369h3v59h-3zM1412,379h3v11h-3z" fill="#fff"/>
</g>
<g shape-rendering="crispEdges">
<path d="M5,637h1v139h-1zM13,637h1v142h-1zM21,637h1v139h-1zM29,637h1v137h-1zM37,637h1v134h-1zM45,637h1v124h-1zM53,637h1v105h-1zM61,637h1v91h-1zM69,637h1v75h-1zM77,637h1v64h-1zM85,637h1v53h-1zM93,637h1v43h-1zM101,637h1v39h-1zM109,637h1v33h-1zM117,637h1v29h-1zM125,637h1v24h-1zM133,637h1v23h-1zM141,637h1v29h-1zM149,637h1v41h-1zM157,637h1v62h-1zM165,637h1v77h-1zM173,637h1v91h-1zM181,637h1v102h-1zM189,637h1v109h-1zM197,637h1v114h-1zM205,637h1v123h-1zM213,637h1v129h-1zM221,637h1v133h-1zM229,637h1v127h-1zM237,637h1v121h-1zM245,637h1v115h-1zM253,637h1v105h-1zM261,637h1v95h-1zM269,637h1v85h-1zM277,637h1v75h-1zM285,637h1v65h-1zM293,637h1v57h-1zM301,637h1v51h-1zM309,637h1v50h-1zM317,637h1v43h-1zM325,637h1v31h-1zM333,637h1v25h-1zM341,637h1v25h-1zM349,637h1v23h-1zM357,637h1v23h-1zM365,637h1v23h-1zM373,637h1v17h-1zM381,637h1v11h-1zM389,637h1v4h-1zM397,633h1v5h-1zM405,625h1v13h-1zM413,617h1v21h-1zM421,609h1v29h-1zM429,606h1v32h-1zM437,608h1v30h-1zM445,604h1v34h-1zM453,602h1v36h-1zM461,603h1v35h-1zM469,603h1v35h-1zM477,612h1v26h-1zM485,617h1v21h-1zM493,624h1v14h-1zM501,633h1v5h-1zM509,637h1v1h-1zM517,637h1v7h-1zM525,637h1v9h-1zM533,637h1v19h-1zM541,637h1v29h-1zM549,637h1v35h-1zM557,637h1v39h-1zM565,637h1v41h-1zM573,637h1v51h-1zM581,637h1v55h-1zM589,637h1v55h-1zM597,637h1v57h-1zM605,637h1v57h-1zM613,637h1v57h-1zM621,637h1v57h-1zM629,637h1v64h-1zM637,637h1v71h-1zM645,637h1v73h-1zM653,637h1v71h-1zM661,637h1v68h-1zM669,637h1v70h-1zM677,637h1v72h-1zM685,637h1v71h-1zM693,637h1v73h-1zM701,637h1v74h-1zM709,637h1v75h-1zM717,637h1v70h-1zM725,637h1v63h-1zM733,637h1v57h-1zM741,637h1v52h-1zM749,637h1v47h-1zM757,637h1v44h-1zM765,637h1v39h-1zM773,637h1v44h-1zM781,637h1v47h-1zM789,637h1v45h-1zM797,637h1v42h-1zM805,637h1v37h-1zM813,637h1v31h-1zM821,637h1v47h-1zM829,637h1v49h-1zM837,637h1v47h-1zM845,637h1v42h-1zM853,637h1v37h-1zM861,637h1v31h-1zM869,637h1v27h-1zM877,637h1v32h-1zM885,637h1v35h-1zM893,637h1v34h-1zM901,637h1v35h-1zM909,637h1v25h-1zM917,637h1v23h-1zM925,637h1v22h-1zM933,637h1v21h-1zM941,637h1v23h-1zM949,637h1v26h-1zM957,637h1v27h-1zM965,637h1v41h-1zM973,637h1v47h-1zM981,637h1v52h-1zM989,637h1v55h-1zM997,637h1v56h-1zM1005,637h1v47h-1zM1013,637h1v50h-1zM1021,637h1v46h-1zM1029,637h1v42h-1zM1037,637h1v33h-1zM1045,637h1v27h-1zM1053,637h1v27h-1zM1061,637h1v31h-1zM1069,637h1v33h-1zM1077,637h1v33h-1zM1085,637h1v29h-1zM1093,637h1v29h-1zM1101,637h1v35h-1zM1109,637h1v38h-1zM1117,637h1v37h-1zM1125,637h1v41h-1zM1133,637h1v43h-1zM1141,637h1v46h-1zM1149,637h1v51h-1zM1157,637h1v50h-1zM1165,637h1v48h-1zM1173,637h1v43h-1zM1181,637h1v38h-1zM1189,637h1v36h-1zM1197,637h1v37h-1zM1205,637h1v32h-1zM1213,637h1v22h-1zM1221,637h1v14h-1zM1229,637h1v8h-1zM1237,637h1v7h-1zM1245,637h1v1h-1zM1253,637h1v1h-1zM1261,637h1v6h-1zM1269,637h1v7h-1zM1277,637h1v15h-1zM1285,637h1v19h-1zM1293,637h1v12h-1zM1301,637h1v9h-1zM1309,637h1v9h-1zM1317,637h1v7h-1zM1325,637h1v6h-1zM1333,637h1v1h-1zM1341,633h1v5h-1zM1349,637h1v1h-1zM1357,636h1v2h-1zM1365,630h1v8h-1zM1373,628h1v10h-1zM1381,624h1v14h-1zM1389,618h1v20h-1zM1397,603h1v35h-1zM1405,596h1v42h-1zM1413,589h1v49h-1zM1421,583h1v55h-1zM1429,583h1v55h-1zM1437,589h1v49h-1zM1445,596h1v42h-1zM1453,605h1v33h-1z" fill="#c0c0c0"/>
</g>
<path d="M0.0,725.0 C0.8,726.2 2.8,729.4 5.0,732.5 C7.2,735.6 10.3,740.0 13.0,743.8 C15.7,747.5 18.3,751.7 21.0,755.0 C23.7,758.3 26.3,761.6 29.0,763.8 C31.7,765.9 34.3,767.0 37.0,768.0 C39.7,769.0 42.3,769.9 45.0,770.0 C47.7,770.1 50.3,769.8 53.0,768.8 C55.7,767.7 58.3,765.8 61.0,763.8 C63.7,761.7 66.3,758.8 69.0,756.2 C71.7,753.8 74.3,751.5 77.0,748.8 C79.7,746.0 82.3,743.1 85.0,740.0 C87.7,736.9 90.3,733.5 93.0,730.0 C95.7,726.5 98.3,722.2 101.0,718.8 C103.7,715.3 106.3,712.8 109.0,709.5 C111.7,706.2 114.3,702.4 117.0,698.8 C119.7,695.1 122.3,690.8 125.0,687.5 C127.7,684.2 130.3,680.9 133.0,678.8 C135.7,676.6 138.3,675.5 141.0,674.5 C143.7,673.5 146.3,672.7 149.0,672.5 C151.7,672.3 154.3,672.5 157.0,673.2 C159.7,674.0 162.3,675.0 165.0,676.8 C167.7,678.5 170.3,681.5 173.0,683.8 C175.7,686.0 178.3,687.3 181.0,690.0 C183.7,692.7 186.3,696.7 189.0,700.0 C191.7,703.3 194.3,706.7 197.0,710.0 C199.7,713.3 202.3,716.5 205.0,720.0 C207.7,723.5 210.3,727.7 213.0,731.2 C215.7,734.8 218.3,738.1 221.0,741.2 C223.7,744.4 226.3,747.6 229.0,750.0 C231.7,752.4 234.3,754.2 237.0,755.5 C239.7,756.8 242.3,757.2 245.0,757.5 C247.7,757.8 250.3,757.7 253.0,757.5 C255.7,757.3 258.3,757.1 261.0,756.2 C263.7,755.4 266.3,753.9 269.0,752.5 C271.7,751.1 274.3,749.9 277.0,748.0 C279.7,746.1 282.3,743.8 285.0,741.2 C287.7,738.8 290.3,735.8 293.0,733.0 C295.7,730.2 298.3,727.4 301.0,724.5 C303.7,721.6 306.3,718.6 309.0,715.8 C311.7,712.9 314.3,710.1 317.0,707.5 C319.7,704.9 322.3,702.6 325.0,700.0 C327.7,697.4 330.3,694.6 333.0,692.0 C335.7,689.4 338.3,686.6 341.0,684.5 C343.7,682.4 346.3,681.2 349.0,679.5 C351.7,677.8 354.3,676.1 357.0,674.5 C359.7,672.9 362.3,671.5 365.0,670.0 C367.7,668.5 370.3,667.2 373.0,665.8 C375.7,664.3 378.3,662.6 381.0,661.2 C383.7,659.9 386.3,658.7 389.0,657.5 C391.7,656.3 394.3,655.6 397.0,654.2 C399.7,652.9 402.3,651.2 405.0,649.5 C407.7,647.8 410.3,645.5 413.0,643.8 C415.7,642.0 419.2,639.9 421.0,638.8 C422.8,637.6 422.7,638.1 424.0,637.0 C425.3,635.9 426.8,633.8 429.0,632.0 C431.2,630.2 434.3,627.9 437.0,626.2 C439.7,624.6 442.3,623.9 445.0,622.0 C447.7,620.1 450.3,616.8 453.0,615.0 C455.7,613.2 458.3,612.4 461.0,611.2 C463.7,610.1 466.3,609.0 469.0,608.2 C471.7,607.5 474.3,607.1 477.0,606.8 C479.7,606.4 482.3,606.0 485.0,606.2 C487.7,606.5 490.3,607.2 493.0,608.0 C495.7,608.8 498.3,610.1 501.0,611.2 C503.7,612.4 506.3,613.8 509.0,615.0 C511.7,616.2 514.3,617.2 517.0,618.8 C519.7,620.3 522.3,622.4 525.0,624.2 C527.7,626.1 530.3,627.9 533.0,630.0 C535.7,632.1 538.3,634.7 541.0,637.0 C543.7,639.3 546.3,641.5 549.0,643.8 C551.7,646.0 554.3,648.4 557.0,650.5 C559.7,652.6 562.3,654.1 565.0,656.2 C567.7,658.4 570.3,661.0 573.0,663.2 C575.7,665.5 578.3,668.2 581.0,670.0 C583.7,671.8 586.3,672.7 589.0,674.2 C591.7,675.8 594.3,677.8 597.0,679.5 C599.7,681.2 602.3,683.2 605.0,684.5 C607.7,685.8 610.3,686.8 613.0,687.5 C615.7,688.2 618.3,688.0 621.0,688.8 C623.7,689.5 626.3,690.8 629.0,692.0 C631.7,693.2 634.3,694.8 637.0,695.8 C639.7,696.7 642.3,696.7 645.0,697.5 C647.7,698.3 650.3,699.8 653.0,700.5 C655.7,701.2 658.3,701.6 661.0,702.0 C663.7,702.4 666.3,702.6 669.0,703.0 C671.7,703.4 674.3,703.8 677.0,704.2 C679.7,704.7 682.3,705.1 685.0,705.8 C687.7,706.4 690.3,707.4 693.0,708.0 C695.7,708.6 698.3,709.2 701.0,709.5 C703.7,709.8 706.3,709.5 709.0,709.5 C711.7,709.5 714.3,709.5 717.0,709.2 C719.7,709.0 722.3,708.6 725.0,708.2 C727.7,707.9 730.3,707.4 733.0,707.0 C735.7,706.6 738.3,706.5 741.0,705.8 C743.7,705.0 746.3,703.5 749.0,702.5 C751.7,701.5 754.3,701.1 757.0,700.0 C759.7,698.9 762.3,697.0 765.0,695.8 C767.7,694.5 770.3,693.5 773.0,692.5 C775.7,691.5 778.3,690.5 781.0,689.5 C783.7,688.5 786.3,687.1 789.0,686.2 C791.7,685.4 794.3,685.0 797.0,684.2 C799.7,683.5 802.3,682.5 805.0,681.8 C807.7,681.0 810.3,679.9 813.0,679.5 C815.7,679.1 818.3,679.3 821.0,679.2 C823.7,679.2 826.3,679.0 829.0,679.2 C831.7,679.5 834.3,680.3 837.0,680.5 C839.7,680.7 843.2,680.7 845.0,680.5 C846.8,680.3 846.7,679.8 848.0,679.5 C849.3,679.2 850.8,679.1 853.0,678.8 C855.2,678.4 858.3,677.9 861.0,677.5 C863.7,677.1 866.3,676.6 869.0,676.2 C871.7,675.9 874.3,675.2 877.0,675.2 C879.7,675.2 882.3,676.4 885.0,676.2 C887.7,676.1 890.3,674.8 893.0,674.2 C895.7,673.7 898.3,673.7 901.0,673.0 C903.7,672.3 906.3,670.8 909.0,670.0 C911.7,669.2 914.3,668.4 917.0,668.0 C919.7,667.6 922.3,667.8 925.0,667.5 C927.7,667.2 930.3,666.6 933.0,666.2 C935.7,665.9 938.3,665.8 941.0,665.5 C943.7,665.2 946.3,664.9 949.0,664.5 C951.7,664.1 954.3,663.3 957.0,663.2 C959.7,663.2 962.3,663.8 965.0,664.2 C967.7,664.8 970.3,665.4 973.0,666.2 C975.7,667.1 978.3,668.5 981.0,669.5 C983.7,670.5 986.3,671.6 989.0,672.5 C991.7,673.4 994.3,674.0 997.0,675.0 C999.7,676.0 1002.3,677.6 1005.0,678.8 C1007.7,679.9 1010.3,681.0 1013.0,682.0 C1015.7,683.0 1018.3,683.8 1021.0,684.5 C1023.7,685.2 1026.3,686.1 1029.0,686.2 C1031.7,686.4 1034.3,686.2 1037.0,685.5 C1039.7,684.8 1042.3,682.8 1045.0,682.0 C1047.7,681.2 1050.3,681.2 1053.0,680.5 C1055.7,679.8 1058.3,678.4 1061.0,677.5 C1063.7,676.6 1066.3,675.8 1069.0,675.0 C1071.7,674.2 1074.3,673.7 1077.0,673.0 C1079.7,672.3 1082.3,671.5 1085.0,670.8 C1087.7,670.0 1090.3,668.7 1093.0,668.2 C1095.7,667.8 1098.3,668.2 1101.0,668.2 C1103.7,668.2 1106.3,668.0 1109.0,668.2 C1111.7,668.5 1114.3,669.1 1117.0,669.5 C1119.7,669.9 1122.3,670.3 1125.0,670.8 C1127.7,671.2 1130.3,671.4 1133.0,672.0 C1135.7,672.6 1138.3,673.6 1141.0,674.2 C1143.7,674.9 1146.3,675.1 1149.0,675.8 C1151.7,676.4 1154.3,677.5 1157.0,678.2 C1159.7,679.0 1162.3,679.5 1165.0,680.0 C1167.7,680.5 1170.3,681.2 1173.0,681.5 C1175.7,681.8 1178.3,681.5 1181.0,681.5 C1183.7,681.5 1186.3,681.5 1189.0,681.5 C1191.7,681.5 1194.3,681.8 1197.0,681.5 C1199.7,681.2 1202.3,680.3 1205.0,679.5 C1207.7,678.7 1210.3,677.8 1213.0,676.8 C1215.7,675.7 1218.3,674.5 1221.0,673.0 C1223.7,671.5 1226.3,669.5 1229.0,668.0 C1231.7,666.5 1234.3,665.2 1237.0,663.8 C1239.7,662.3 1242.3,660.7 1245.0,659.2 C1247.7,657.8 1250.3,656.3 1253.0,655.0 C1255.7,653.7 1258.3,652.4 1261.0,651.2 C1263.7,650.1 1267.2,648.7 1269.0,648.0 C1270.8,647.3 1270.7,647.2 1272.0,647.0 C1273.3,646.8 1274.8,646.8 1277.0,646.8 C1279.2,646.7 1282.3,646.8 1285.0,646.8 C1287.7,646.7 1290.3,646.6 1293.0,646.5 C1295.7,646.4 1298.3,646.3 1301.0,646.2 C1303.7,646.2 1306.3,646.1 1309.0,646.2 C1311.7,646.4 1314.3,646.7 1317.0,647.0 C1319.7,647.3 1322.3,648.2 1325.0,648.2 C1327.7,648.3 1330.3,647.8 1333.0,647.5 C1335.7,647.2 1338.3,646.8 1341.0,646.2 C1343.7,645.8 1346.3,645.3 1349.0,644.5 C1351.7,643.7 1354.3,642.2 1357.0,641.2 C1359.7,640.3 1362.3,639.6 1365.0,639.0 C1367.7,638.4 1370.3,638.2 1373.0,637.5 C1375.7,636.8 1378.3,636.0 1381.0,635.0 C1383.7,634.0 1386.3,633.1 1389.0,631.8 C1391.7,630.4 1394.3,628.6 1397.0,627.0 C1399.7,625.4 1402.3,623.7 1405.0,622.0 C1407.7,620.3 1410.3,618.8 1413.0,617.0 C1415.7,615.2 1418.3,613.1 1421.0,611.2 C1423.7,609.4 1426.3,607.5 1429.0,605.8 C1431.7,604.0 1434.3,602.2 1437.0,600.8 C1439.7,599.3 1442.3,598.0 1445.0,597.0 C1447.7,596.0 1451.7,594.9 1453.0,594.5" fill="none" stroke="#ff0000" stroke-width="1" stroke-dasharray="3 3" shape-rendering="crispEdges"/>
<g shape-rendering="crispEdges" fill="#c0c0c0">
<path d="M0,821h1648" stroke="#c0c0c0" stroke-width="1" stroke-dasharray="3 3" transform="translate(0,0.5)"/>
<path d="M0,863h1648" stroke="#c0c0c0" stroke-width="1" stroke-dasharray="3 3" transform="translate(0,0.5)"/>
<path d="M0,912h1648" stroke="#c0c0c0" stroke-width="1" stroke-dasharray="3 3" transform="translate(0,0.5)"/>
</g>
<path d="M0.0,896.2 L5.0,887.5 L13.0,888.2 L21.0,885.5 L29.0,887.5 L37.0,886.2 L45.0,876.2 L53.0,864.5 L61.0,865.5 L69.0,863.8 L77.0,865.5 L85.0,862.5 L93.0,861.2 L101.0,867.0 L109.0,863.2 L117.0,864.5 L125.0,865.5 L133.0,866.2 L141.0,877.5 L149.0,886.2 L157.0,896.2 L165.0,896.2 L173.0,897.5 L181.0,899.5 L189.0,896.2 L197.0,897.5 L205.0,901.2 L213.0,901.5 L221.0,901.2 L229.0,888.0 L237.0,886.2 L245.0,886.2 L253.0,877.5 L261.0,876.2 L269.0,871.8 L277.0,871.2 L285.0,865.5 L293.0,869.5 L301.0,870.5 L309.0,877.5 L317.0,866.2 L325.0,855.8 L333.0,862.5 L341.0,870.5 L349.0,867.0 L357.0,868.8 L365.0,872.5 L373.0,860.0 L381.0,858.0 L389.0,854.5 L397.0,848.8 L405.0,847.0 L413.0,846.2 L421.0,841.2 L429.0,851.2 L437.0,856.2 L445.0,850.5 L453.0,849.5 L461.0,855.0 L469.0,853.0 L477.0,869.2 L485.0,865.5 L493.0,870.0 L501.0,874.2 L509.0,873.2 L517.0,875.5 L525.0,869.5 L533.0,882.0 L541.0,885.5 L549.0,880.5 L557.0,880.5 L565.0,879.5 L573.0,890.0 L581.0,884.5 L589.0,879.5 L597.0,881.2 L605.0,882.5 L613.0,882.5 L621.0,882.5 L629.0,893.0 L637.0,895.5 L645.0,891.2 L653.0,880.5 L661.0,880.5 L669.0,887.0 L677.0,888.2 L685.0,887.0 L693.0,889.5 L701.0,892.5 L709.0,892.5 L717.0,876.8 L725.0,873.2 L733.0,874.2 L741.0,870.5 L749.0,872.5 L757.0,874.2 L765.0,867.5 L773.0,884.2 L781.0,885.5 L789.0,874.5 L797.0,871.2 L805.0,867.0 L813.0,862.5 L821.0,891.2 L829.0,874.5 L837.0,871.2 L845.0,866.8 L853.0,865.5 L861.0,863.8 L869.0,866.2 L877.0,875.5 L885.0,875.5 L893.0,869.5 L901.0,872.5 L909.0,859.2 L917.0,865.0 L925.0,867.0 L933.0,867.5 L941.0,870.5 L949.0,873.0 L957.0,874.5 L965.0,886.2 L973.0,882.0 L981.0,880.5 L989.0,880.5 L997.0,881.2 L1005.0,864.5 L1013.0,875.0 L1021.0,869.2 L1029.0,867.0 L1037.0,861.2 L1045.0,861.2 L1053.0,870.0 L1061.0,874.2 L1069.0,873.2 L1077.0,871.2 L1085.0,865.5 L1093.0,871.2 L1101.0,878.2 L1109.0,878.8 L1117.0,871.8 L1125.0,877.0 L1133.0,878.8 L1141.0,879.5 L1149.0,883.2 L1157.0,875.5 L1165.0,874.2 L1173.0,868.8 L1181.0,866.2 L1189.0,871.2 L1197.0,876.2 L1205.0,864.5 L1213.0,855.5 L1221.0,855.5 L1229.0,858.0 L1237.0,863.8 L1245.0,855.5 L1253.0,865.0 L1261.0,869.2 L1269.0,870.0 L1277.0,877.0 L1285.0,873.0 L1293.0,857.5 L1301.0,862.0 L1309.0,866.2 L1317.0,863.2 L1325.0,863.2 L1333.0,856.2 L1341.0,853.0 L1349.0,868.2 L1357.0,861.2 L1365.0,855.0 L1373.0,858.2 L1381.0,855.5 L1389.0,852.0 L1397.0,841.2 L1405.0,845.0 L1413.0,845.5 L1421.0,845.5 L1429.0,848.8 L1437.0,856.2 L1445.0,862.0 L1453.0,866.2" fill="none" stroke="#1e90ff" stroke-width="1" shape-rendering="crispEdges"/>
<!-- frame -->
<g shape-rendering="crispEdges" fill="#000">
<rect x="0" y="33" width="1649" height="1"/>
<rect x="1648" y="33" width="1" height="536"/>
<rect x="0" y="568" width="1649" height="1"/>
<rect x="0" y="570" width="1649" height="1"/>
<rect x="1648" y="570" width="1" height="220"/>
<rect x="0" y="789" width="1649" height="1"/>
<rect x="0" y="791" width="1649" height="1"/>
<rect x="1648" y="791" width="1" height="144"/>
<rect x="0" y="934" width="1649" height="1"/>
<rect x="1649" y="37" width="2" height="1"/>
<rect x="1649" y="70" width="2" height="1"/>
<rect x="1649" y="103" width="2" height="1"/>
<rect x="1649" y="136" width="2" height="1"/>
<rect x="1649" y="169" width="2" height="1"/>
<rect x="1649" y="202" width="2" height="1"/>
<rect x="1649" y="235" width="2" height="1"/>
<rect x="1649" y="268" width="2" height="1"/>
<rect x="1649" y="301" width="2" height="1"/>
<rect x="1649" y="334" width="2" height="1"/>
<rect x="1649" y="367" width="2" height="1"/>
<rect x="1649" y="400" width="2" height="1"/>
<rect x="1649" y="433" width="2" height="1"/>
<rect x="1649" y="466" width="2" height="1"/>
<rect x="1649" y="499" width="2" height="1"/>
<rect x="1649" y="532" width="2" height="1"/>
<rect x="1649" y="565" width="2" height="1"/>
<rect x="1649" y="571" width="1" height="1"/>
<rect x="1649" y="788" width="1" height="1"/>
<rect x="1649" y="793" width="1" height="1"/>
<rect x="1649" y="932" width="1" height="1"/>
<rect x="53" y="934" width="1" height="4"/>
<rect x="117" y="934" width="1" height="4"/>
<rect x="181" y="934" width="1" height="4"/>
<rect x="245" y="934" width="1" height="4"/>
<rect x="309" y="934" width="1" height="4"/>
<rect x="373" y="934" width="1" height="4"/>
<rect x="437" y="934" width="1" height="4"/>
<rect x="501" y="934" width="1" height="4"/>
<rect x="565" y="934" width="1" height="4"/>
<rect x="629" y="934" width="1" height="4"/>
<rect x="693" y="934" width="1" height="4"/>
<rect x="757" y="934" width="1" height="4"/>
<rect x="821" y="934" width="1" height="4"/>
<rect x="885" y="934" width="1" height="4"/>
<rect x="949" y="934" width="1" height="4"/>
<rect x="1013" y="934" width="1" height="4"/>
<rect x="1077" y="934" width="1" height="4"/>
<rect x="1141" y="934" width="1" height="4"/>
<rect x="1205" y="934" width="1" height="4"/>
<rect x="1269" y="934" width="1" height="4"/>
<rect x="1333" y="934" width="1" height="4"/>
<rect x="1397" y="934" width="1" height="4"/>
</g>
<rect x="1694" y="31" width="1" height="922" fill="#d4d4d4" shape-rendering="crispEdges"/>
<rect x="1695" y="31" width="1" height="922" fill="#f0f0f0" shape-rendering="crispEdges"/>
<g font-family="Liberation Sans, sans-serif">
<text x="1654" y="40.6" font-size="9.5" fill="#000" textLength="33.3" lengthAdjust="spacingAndGlyphs" stroke="#000" stroke-width="0.2">1.36265</text>
<text x="1654" y="73.6" font-size="9.5" fill="#000" textLength="33.3" lengthAdjust="spacingAndGlyphs" stroke="#000" stroke-width="0.2">1.35970</text>
<text x="1654" y="106.6" font-size="9.5" fill="#000" textLength="33.3" lengthAdjust="spacingAndGlyphs" stroke="#000" stroke-width="0.2">1.35670</text>
<text x="1654" y="139.6" font-size="9.5" fill="#000" textLength="33.3" lengthAdjust="spacingAndGlyphs" stroke="#000" stroke-width="0.2">1.35375</text>
<text x="1654" y="172.6" font-size="9.5" fill="#000" textLength="33.3" lengthAdjust="spacingAndGlyphs" stroke="#000" stroke-width="0.2">1.35080</text>
<text x="1654" y="205.6" font-size="9.5" fill="#000" textLength="33.3" lengthAdjust="spacingAndGlyphs" stroke="#000" stroke-width="0.2">1.34785</text>
<text x="1654" y="238.6" font-size="9.5" fill="#000" textLength="33.3" lengthAdjust="spacingAndGlyphs" stroke="#000" stroke-width="0.2">1.34485</text>
<text x="1654" y="271.6" font-size="9.5" fill="#000" textLength="33.3" lengthAdjust="spacingAndGlyphs" stroke="#000" stroke-width="0.2">1.34190</text>
<text x="1654" y="304.6" font-size="9.5" fill="#000" textLength="33.3" lengthAdjust="spacingAndGlyphs" stroke="#000" stroke-width="0.2">1.33895</text>
<text x="1654" y="337.6" font-size="9.5" fill="#000" textLength="33.3" lengthAdjust="spacingAndGlyphs" stroke="#000" stroke-width="0.2">1.33595</text>
<text x="1654" y="370.6" font-size="9.5" fill="#000" textLength="33.3" lengthAdjust="spacingAndGlyphs" stroke="#000" stroke-width="0.2">1.33300</text>
<text x="1654" y="403.6" font-size="9.5" fill="#000" textLength="33.3" lengthAdjust="spacingAndGlyphs" stroke="#000" stroke-width="0.2">1.33005</text>
<text x="1654" y="436.6" font-size="9.5" fill="#000" textLength="33.3" lengthAdjust="spacingAndGlyphs" stroke="#000" stroke-width="0.2">1.32705</text>
<text x="1654" y="469.6" font-size="9.5" fill="#000" textLength="33.3" lengthAdjust="spacingAndGlyphs" stroke="#000" stroke-width="0.2">1.32410</text>
<text x="1654" y="502.6" font-size="9.5" fill="#000" textLength="33.3" lengthAdjust="spacingAndGlyphs" stroke="#000" stroke-width="0.2">1.32115</text>
<text x="1654" y="535.6" font-size="9.5" fill="#000" textLength="33.3" lengthAdjust="spacingAndGlyphs" stroke="#000" stroke-width="0.2">1.31815</text>
<text x="1654" y="568.6" font-size="9.5" fill="#000" textLength="33.3" lengthAdjust="spacingAndGlyphs" stroke="#000" stroke-width="0.2">1.31520</text>
<text x="1652" y="581" font-size="9.5" fill="#000" textLength="38.4" lengthAdjust="spacingAndGlyphs" stroke="#000" stroke-width="0.2">0.002592</text>
<text x="1652" y="641.3" font-size="9.5" fill="#000" textLength="18.1" lengthAdjust="spacingAndGlyphs" stroke="#000" stroke-width="0.2">0.00</text>
<text x="1651.5" y="785.3" font-size="9.5" fill="#000" textLength="41.8" lengthAdjust="spacingAndGlyphs" stroke="#000" stroke-width="0.2">-0.006059</text>
<text x="1652.3" y="801.9" font-size="9.5" fill="#000" textLength="15.2" lengthAdjust="spacingAndGlyphs" stroke="#000" stroke-width="0.2">100</text>
<text x="1651.5" y="824.8" font-size="9.5" fill="#000" textLength="10.2" lengthAdjust="spacingAndGlyphs" stroke="#000" stroke-width="0.2">80</text>
<text x="1651.5" y="866.8" font-size="9.5" fill="#000" textLength="10.2" lengthAdjust="spacingAndGlyphs" stroke="#000" stroke-width="0.2">50</text>
<text x="1651.5" y="916" font-size="9.5" fill="#000" textLength="10.2" lengthAdjust="spacingAndGlyphs" stroke="#000" stroke-width="0.2">15</text>
<text x="1651.5" y="931" font-size="9.5" fill="#000" textLength="5.1" lengthAdjust="spacingAndGlyphs" stroke="#000" stroke-width="0.2">0</text>
<text x="-12.3" y="946.9" font-size="9.5" fill="#000" textLength="48.1" lengthAdjust="spacingAndGlyphs" stroke="#000" stroke-width="0.2">5 Nov 2021</text>
<text x="51.7" y="946.9" font-size="9.5" fill="#000" textLength="51.5" lengthAdjust="spacingAndGlyphs" stroke="#000" stroke-width="0.2">8 Nov 12:00</text>
<text x="115.7" y="946.9" font-size="9.5" fill="#000" textLength="51.5" lengthAdjust="spacingAndGlyphs" stroke="#000" stroke-width="0.2">9 Nov 20:00</text>
<text x="179.7" y="946.9" font-size="9.5" fill="#000" textLength="56.6" lengthAdjust="spacingAndGlyphs" stroke="#000" stroke-width="0.2">11 Nov 04:00</text>
<text x="243.7" y="946.9" font-size="9.5" fill="#000" textLength="56.6" lengthAdjust="spacingAndGlyphs" stroke="#000" stroke-width="0.2">12 Nov 12:00</text>
<text x="307.7" y="946.9" font-size="9.5" fill="#000" textLength="56.6" lengthAdjust="spacingAndGlyphs" stroke="#000" stroke-width="0.2">15 Nov 20:00</text>
<text x="371.7" y="946.9" font-size="9.5" fill="#000" textLength="56.6" lengthAdjust="spacingAndGlyphs" stroke="#000" stroke-width="0.2">17 Nov 04:00</text>
<text x="435.7" y="946.9" font-size="9.5" fill="#000" textLength="56.6" lengthAdjust="spacingAndGlyphs" stroke="#000" stroke-width="0.2">18 Nov 12:00</text>
<text x="499.7" y="946.9" font-size="9.5" fill="#000" textLength="56.6" lengthAdjust="spacingAndGlyphs" stroke="#000" stroke-width="0.2">21 Nov 23:00</text>
<text x="563.7" y="946.9" font-size="9.5" fill="#000" textLength="56.6" lengthAdjust="spacingAndGlyphs" stroke="#000" stroke-width="0.2">23 Nov 04:00</text>
<text x="627.7" y="946.9" font-size="9.5" fill="#000" textLength="56.6" lengthAdjust="spacingAndGlyphs" stroke="#000" stroke-width="0.2">24 Nov 12:00</text>
<text x="691.7" y="946.9" font-size="9.5" fill="#000" textLength="56.6" lengthAdjust="spacingAndGlyphs" stroke="#000" stroke-width="0.2">25 Nov 20:00</text>
<text x="755.7" y="946.9" font-size="9.5" fill="#000" textLength="56.6" lengthAdjust="spacingAndGlyphs" stroke="#000" stroke-width="0.2">29 Nov 04:00</text>
<text x="819.7" y="946.9" font-size="9.5" fill="#000" textLength="56.6" lengthAdjust="spacingAndGlyphs" stroke="#000" stroke-width="0.2">30 Nov 12:00</text>
<text x="883.7" y="946.9" font-size="9.5" fill="#000" textLength="51.1" lengthAdjust="spacingAndGlyphs" stroke="#000" stroke-width="0.2">1 Dec 20:00</text>
<text x="947.7" y="946.9" font-size="9.5" fill="#000" textLength="51.1" lengthAdjust="spacingAndGlyphs" stroke="#000" stroke-width="0.2">3 Dec 04:00</text>
<text x="1011.7" y="946.9" font-size="9.5" fill="#000" textLength="51.1" lengthAdjust="spacingAndGlyphs" stroke="#000" stroke-width="0.2">6 Dec 12:00</text>
<text x="1075.7" y="946.9" font-size="9.5" fill="#000" textLength="51.1" lengthAdjust="spacingAndGlyphs" stroke="#000" stroke-width="0.2">7 Dec 20:00</text>
<text x="1139.7" y="946.9" font-size="9.5" fill="#000" textLength="51.1" lengthAdjust="spacingAndGlyphs" stroke="#000" stroke-width="0.2">9 Dec 04:00</text>
<text x="1203.7" y="946.9" font-size="9.5" fill="#000" textLength="56.2" lengthAdjust="spacingAndGlyphs" stroke="#000" stroke-width="0.2">10 Dec 12:00</text>
<text x="1267.7" y="946.9" font-size="9.5" fill="#000" textLength="56.2" lengthAdjust="spacingAndGlyphs" stroke="#000" stroke-width="0.2">13 Dec 20:00</text>
<text x="1331.7" y="946.9" font-size="9.5" fill="#000" textLength="56.2" lengthAdjust="spacingAndGlyphs" stroke="#000" stroke-width="0.2">15 Dec 04:00</text>
<text x="1395.7" y="946.9" font-size="9.5" fill="#000" textLength="56.2" lengthAdjust="spacingAndGlyphs" stroke="#000" stroke-width="0.2">16 Dec 12:00</text>
<text x="4" y="44.7" font-size="9.5" fill="#000" textLength="204.3" lengthAdjust="spacingAndGlyphs" stroke="#000" stroke-width="0.2">GBPUSD-,H4  1.32618 1.32727 1.32457 1.32496</text>
<text x="-7.3" y="582.8" font-size="9.5" fill="#000" textLength="145.5" lengthAdjust="spacingAndGlyphs" stroke="#000" stroke-width="0.2">MACD(12,26,9) 0.001298 0.001679</text>
<text x="-7.2" y="803.8" font-size="9.5" fill="#000" textLength="68.0" lengthAdjust="spacingAndGlyphs" stroke="#000" stroke-width="0.2">RSI(14) 46.9313</text>
</g>
<g shape-rendering="crispEdges">
<rect x="1650" y="384" width="41" height="11" fill="#ff0000"/>
<rect x="1650" y="409" width="41" height="11" fill="#ff4500"/>
<rect x="1650" y="437" width="41" height="11" fill="#32cd32"/>
<rect x="1650" y="451" width="41" height="11" fill="#000000"/>
<rect x="1650" y="477" width="41" height="11" fill="#0000ff"/>
<rect x="1650" y="499" width="41" height="11" fill="#0000ff"/>
<rect x="1643.5" y="388.5" width="4" height="4" fill="#fff" stroke="#ff0000" stroke-width="1"/>
<rect x="1643.5" y="413.5" width="4" height="4" fill="#fff" stroke="#ff4500" stroke-width="1"/>
<rect x="1643.5" y="441.5" width="4" height="4" fill="#fff" stroke="#32cd32" stroke-width="1"/>
<rect x="1643.5" y="481.5" width="4" height="4" fill="#fff" stroke="#0000ff" stroke-width="1"/>
<rect x="1643.5" y="503.5" width="4" height="4" fill="#fff" stroke="#0000ff" stroke-width="1"/>
</g>
<g font-family="Liberation Sans, sans-serif">
<text x="1654" y="393.0" font-size="9.5" fill="#fff" textLength="33.3" lengthAdjust="spacingAndGlyphs" stroke="#fff" stroke-width="0.2">1.33097</text>
<text x="1654" y="418.0" font-size="9.5" fill="#fff" textLength="33.3" lengthAdjust="spacingAndGlyphs" stroke="#fff" stroke-width="0.2">1.32872</text>
<text x="1654" y="446.0" font-size="9.5" fill="#fff" textLength="33.3" lengthAdjust="spacingAndGlyphs" stroke="#fff" stroke-width="0.2">1.32621</text>
<text x="1654" y="460.0" font-size="9.5" fill="#fff" textLength="33.3" lengthAdjust="spacingAndGlyphs" stroke="#fff" stroke-width="0.2">1.32496</text>
<text x="1654" y="486.0" font-size="9.5" fill="#fff" textLength="33.3" lengthAdjust="spacingAndGlyphs" stroke="#fff" stroke-width="0.2">1.32262</text>
<text x="1654" y="508.0" font-size="9.5" fill="#fff" textLength="33.3" lengthAdjust="spacingAndGlyphs" stroke="#fff" stroke-width="0.2">1.32065</text>
</g>
<!-- annotations -->
<g font-family="Liberation Sans, sans-serif">
<rect x="1376" y="443" width="138" height="6" fill="#00ff00" shape-rendering="crispEdges"/>
<rect x="350.5" y="153.5" width="61" height="18" fill="#fff" stroke="#ff0000" stroke-width="1" shape-rendering="crispEdges"/><text x="353.0" y="169.1" font-size="16.3" fill="#ff0000" textLength="57.6" lengthAdjust="spacingAndGlyphs">1.35146</text>
<rect x="412" y="162" width="10" height="1" fill="#ff0000" shape-rendering="crispEdges"/>
<rect x="1326.5" y="309.5" width="61" height="18" fill="#fff" stroke="#ff0000" stroke-width="1" shape-rendering="crispEdges"/><text x="1329.0" y="324.8" font-size="16.3" fill="#ff0000" textLength="57.2" lengthAdjust="spacingAndGlyphs">1.33744</text>
<rect x="1388" y="318" width="10" height="1" fill="#ff0000" shape-rendering="crispEdges"/>
<rect x="1128.5" y="431.5" width="73" height="24" fill="#fff" stroke="#ff0000" stroke-width="1" shape-rendering="crispEdges"/><text x="1130.5" y="451.8" font-size="21.5" fill="#ff0000" textLength="69.6" lengthAdjust="spacingAndGlyphs">1.32621</text>
<rect x="1118" y="443" width="7" height="1" fill="#ff0000" shape-rendering="crispEdges"/>
<rect x="1125.5" y="441.5" width="3" height="4" fill="#fff" stroke="#ff0000" stroke-width="1" shape-rendering="crispEdges"/>
<rect x="1030.5" y="547.5" width="61" height="18" fill="#fff" stroke="#ff0000" stroke-width="1" shape-rendering="crispEdges"/><text x="1033.0" y="562.8" font-size="16.3" fill="#ff0000" textLength="57.4" lengthAdjust="spacingAndGlyphs">1.31608</text>
<rect x="1092" y="556" width="10" height="1" fill="#ff0000" shape-rendering="crispEdges"/>
<rect x="1286.5" y="536.5" width="61" height="17" fill="#fff" stroke="#ff0000" stroke-width="1" shape-rendering="crispEdges"/><text x="1289.0" y="551.3" font-size="16.3" fill="#ff0000" textLength="57.2" lengthAdjust="spacingAndGlyphs">1.31707</text>
<rect x="1348" y="544" width="10" height="1" fill="#ff0000" shape-rendering="crispEdges"/>
<line x1="1351.4" y1="536.0" x2="1403.7" y2="343.1" stroke="#ff0000" stroke-width="3.6"/><path d="M1407.3,334.5 L1408.1,345.3 L1398.9,342.9 L1405.0,333.8z" fill="#ff0000"/>
<line x1="1397.3" y1="328.7" x2="1475.8" y2="465.9" stroke="#ff0000" stroke-width="3.6"/><path d="M1479.4,474.6 L1471.2,467.4 L1479.4,462.7 L1481.4,473.4z" fill="#ff0000"/>
<line x1="1422.0" y1="576.8" x2="1475.8" y2="613.1" stroke="#ff0000" stroke-width="3.6"/><path d="M1482.8,619.3 L1472.3,616.5 L1477.6,608.6 L1484.2,617.3z" fill="#ff0000"/>
<line x1="1393.3" y1="840.5" x2="1453.9" y2="868.1" stroke="#ff0000" stroke-width="3.6"/><path d="M1461.9,873.1 L1451.1,872.1 L1455.0,863.4 L1462.9,870.9z" fill="#ff0000"/>
</g>
<path d="M1460,34 L1469.5,34 L1464.7,39z" fill="#c0c0c0"/>
<!-- trade panel -->
<defs>
<linearGradient id="gTop" x1="0" y1="0" x2="0" y2="1"><stop offset="0" stop-color="#f45252"/><stop offset="1" stop-color="#e02c30"/></linearGradient>
<linearGradient id="gBot" x1="0" y1="0" x2="0" y2="1"><stop offset="0" stop-color="#dc2c2e"/><stop offset="0.5" stop-color="#c81a1c"/><stop offset="1" stop-color="#b40808"/></linearGradient>
<linearGradient id="gBotU" gradientUnits="userSpaceOnUse" x1="0" y1="77" x2="0" y2="110"><stop offset="0" stop-color="#dc2c2e"/><stop offset="0.5" stop-color="#c81a1c"/><stop offset="1" stop-color="#b40808"/></linearGradient>
<linearGradient id="gBtn" x1="0" y1="0" x2="0" y2="1"><stop offset="0" stop-color="#f4f4f4"/><stop offset="0.5" stop-color="#e4e4e4"/><stop offset="0.5" stop-color="#d4d4d4"/><stop offset="1" stop-color="#c8c8c8"/></linearGradient>
</defs>
<g shape-rendering="crispEdges">
<rect x="0" y="53" width="211" height="57" fill="#ffffff"/>
<rect x="0" y="53" width="44" height="24" fill="url(#gTop)"/>
<rect x="160" y="53" width="51" height="24" fill="url(#gTop)"/>
<rect x="0" y="76" width="40" height="1" fill="#f47070"/>
<rect x="163" y="76" width="44" height="1" fill="#f47070"/>
<rect x="0" y="77" width="101" height="33" fill="url(#gBot)"/>
<rect x="103" y="77" width="108" height="33" fill="url(#gBot)"/>
<rect x="46.5" y="53.5" width="110" height="21" fill="#ffffff" stroke="#b0b0b0" stroke-width="1"/>
<rect x="47" y="54" width="20" height="20" fill="url(#gBtn)"/><rect x="67" y="54" width="1" height="20" fill="#b8b8b8"/>
<rect x="136" y="54" width="20" height="20" fill="url(#gBtn)"/><rect x="135" y="54" width="1" height="20" fill="#b8b8b8"/>
</g>
<path d="M53.5,62.2 h5.4 l-2.7,3z" fill="#4860b8"/><path d="M143,65.2 h5.4 l-2.7,-3z" fill="#4860b8"/>
<g font-family="Liberation Sans, sans-serif" fill="#fff">
<text x="4.3" y="68.8" font-size="12" fill="#fff" textLength="24.9" lengthAdjust="spacingAndGlyphs">SELL</text>
<text x="172.3" y="68.8" font-size="12" fill="#fff" textLength="21.4" lengthAdjust="spacingAndGlyphs">BUY</text>
<text x="108.3" y="68.9" font-size="12.5" fill="#000" textLength="23.8" lengthAdjust="spacingAndGlyphs">1.00</text>
<text x="12" y="105" font-size="12" fill="#fff" font-weight="bold" textLength="24.0" lengthAdjust="spacingAndGlyphs">1.32</text>
<text x="39.8" y="105" font-size="32" fill="#fff" textLength="35.2" lengthAdjust="spacingAndGlyphs" stroke="url(#gBotU)" stroke-width="0.9">49</text>
<text x="79.2" y="88.8" font-size="10.5" fill="#fff" font-weight="bold" textLength="6.4" lengthAdjust="spacingAndGlyphs" stroke="#fff" stroke-width="0.2">6</text>
<text x="122.3" y="105" font-size="12" fill="#fff" font-weight="bold" textLength="24.0" lengthAdjust="spacingAndGlyphs">1.32</text>
<text x="151" y="105" font-size="32" fill="#fff" textLength="35.2" lengthAdjust="spacingAndGlyphs" stroke="url(#gBotU)" stroke-width="0.9">51</text>
<text x="189.8" y="88.8" font-size="10.5" fill="#fff" font-weight="bold" textLength="6.4" lengthAdjust="spacingAndGlyphs" stroke="#fff" stroke-width="0.2">9</text>
</g>
<!-- toolbar -->
<g shape-rendering="crispEdges">
<rect x="0" y="0" width="1696" height="33" fill="#f0f0f0"/>
<rect x="0" y="2" width="1696" height="1" fill="#b4b4b4"/>
<rect x="0" y="3" width="1696" height="1" fill="#f8f8f8"/>
<rect x="0" y="28" width="1696" height="1" fill="#f6f6f6"/>
<rect x="0" y="29" width="1696" height="1" fill="#a8a8a8"/>
<rect x="0" y="30" width="1696" height="1" fill="#646464"/>
<rect x="0" y="31" width="1696" height="2" fill="#ffffff"/>
<rect x="1639" y="0" width="18" height="1" fill="#8c9cb4"/>
<rect x="1658" y="0" width="18" height="1" fill="#8c9cb4"/>
<rect x="1677" y="0" width="18" height="1" fill="#8c9cb4"/>
<rect x="9" y="5" width="1" height="23" fill="#a0a0a0"/><rect x="10" y="5" width="1" height="23" fill="#ffffff"/>
<rect x="245" y="5" width="1" height="23" fill="#a0a0a0"/><rect x="246" y="5" width="1" height="23" fill="#ffffff"/>
<rect x="340" y="5" width="1" height="23" fill="#a0a0a0"/><rect x="341" y="5" width="1" height="23" fill="#ffffff"/>
<rect x="430" y="5" width="1" height="23" fill="#a0a0a0"/><rect x="431" y="5" width="1" height="23" fill="#ffffff"/>
<rect x="492" y="5" width="1" height="23" fill="#a0a0a0"/><rect x="493" y="5" width="1" height="23" fill="#ffffff"/>
<rect x="613" y="5" width="1" height="23" fill="#a0a0a0"/><rect x="614" y="5" width="1" height="23" fill="#ffffff"/>
<rect x="680" y="5" width="1" height="23" fill="#a0a0a0"/><rect x="681" y="5" width="1" height="23" fill="#ffffff"/>
<rect x="919" y="5" width="1" height="23" fill="#a0a0a0"/><rect x="920" y="5" width="1" height="23" fill="#ffffff"/>
<rect x="1180" y="5" width="1" height="23" fill="#a0a0a0"/><rect x="1181" y="5" width="1" height="23" fill="#ffffff"/>
<rect x="249" y="7" width="3" height="1" fill="#a8a8a8"/><rect x="249" y="9" width="3" height="1" fill="#a8a8a8"/><rect x="249" y="11" width="3" height="1" fill="#a8a8a8"/><rect x="249" y="13" width="3" height="1" fill="#a8a8a8"/><rect x="249" y="15" width="3" height="1" fill="#a8a8a8"/><rect x="249" y="17" width="3" height="1" fill="#a8a8a8"/><rect x="249" y="19" width="3" height="1" fill="#a8a8a8"/><rect x="249" y="21" width="3" height="1" fill="#a8a8a8"/><rect x="249" y="23" width="3" height="1" fill="#a8a8a8"/><rect x="249" y="25" width="3" height="1" fill="#a8a8a8"/>
<rect x="617" y="7" width="3" height="1" fill="#a8a8a8"/><rect x="617" y="9" width="3" height="1" fill="#a8a8a8"/><rect x="617" y="11" width="3" height="1" fill="#a8a8a8"/><rect x="617" y="13" width="3" height="1" fill="#a8a8a8"/><rect x="617" y="15" width="3" height="1" fill="#a8a8a8"/><rect x="617" y="17" width="3" height="1" fill="#a8a8a8"/><rect x="617" y="19" width="3" height="1" fill="#a8a8a8"/><rect x="617" y="21" width="3" height="1" fill="#a8a8a8"/><rect x="617" y="23" width="3" height="1" fill="#a8a8a8"/><rect x="617" y="25" width="3" height="1" fill="#a8a8a8"/>
<rect x="923" y="7" width="3" height="1" fill="#a8a8a8"/><rect x="923" y="9" width="3" height="1" fill="#a8a8a8"/><rect x="923" y="11" width="3" height="1" fill="#a8a8a8"/><rect x="923" y="13" width="3" height="1" fill="#a8a8a8"/><rect x="923" y="15" width="3" height="1" fill="#a8a8a8"/><rect x="923" y="17" width="3" height="1" fill="#a8a8a8"/><rect x="923" y="19" width="3" height="1" fill="#a8a8a8"/><rect x="923" y="21" width="3" height="1" fill="#a8a8a8"/><rect x="923" y="23" width="3" height="1" fill="#a8a8a8"/><rect x="923" y="25" width="3" height="1" fill="#a8a8a8"/>
<rect x="283" y="5" width="25" height="22" fill="#f8f8f8"/><rect x="283" y="5" width="25" height="1" fill="#a0a0a0"/><rect x="283" y="5" width="1" height="22" fill="#a0a0a0"/><rect x="283" y="26" width="25" height="1" fill="#ffffff"/><rect x="307" y="5" width="1" height="22" fill="#ffffff"/>
<rect x="435" y="5" width="25" height="22" fill="#f8f8f8"/><rect x="435" y="5" width="25" height="1" fill="#a0a0a0"/><rect x="435" y="5" width="1" height="22" fill="#a0a0a0"/><rect x="435" y="26" width="25" height="1" fill="#ffffff"/><rect x="459" y="5" width="1" height="22" fill="#ffffff"/>
<rect x="463" y="5" width="25" height="22" fill="#f8f8f8"/><rect x="463" y="5" width="25" height="1" fill="#a0a0a0"/><rect x="463" y="5" width="1" height="22" fill="#a0a0a0"/><rect x="463" y="26" width="25" height="1" fill="#ffffff"/><rect x="487" y="5" width="1" height="22" fill="#ffffff"/>
<rect x="623" y="5" width="25" height="22" fill="#f8f8f8"/><rect x="623" y="5" width="25" height="1" fill="#a0a0a0"/><rect x="623" y="5" width="1" height="22" fill="#a0a0a0"/><rect x="623" y="26" width="25" height="1" fill="#ffffff"/><rect x="647" y="5" width="1" height="22" fill="#ffffff"/>
<rect x="1069" y="5" width="25" height="22" fill="#f8f8f8"/><rect x="1069" y="5" width="25" height="1" fill="#a0a0a0"/><rect x="1069" y="5" width="1" height="22" fill="#a0a0a0"/><rect x="1069" y="26" width="25" height="1" fill="#ffffff"/><rect x="1093" y="5" width="1" height="22" fill="#ffffff"/>
</g>
<path d="M0,23.5 l2,-1.5 l2,1.5 l-2,1.8z" fill="#303030"/><path d="M0,25 l2,-2 l0,2z" fill="#d8a830"/>
<path d="M19.5,9.5 h8 l3,3 v10 h-11z" fill="#fff" stroke="#7a7a7a" stroke-width="1"/><path d="M21.5,12.5h5 M21.5,15.5h4 M21.5,18.5h3" stroke="#8a8a8a" stroke-width="1"/><path d="M27.5,16 h4 v3.5 h3.5 v4 h-3.5 v3.5 h-4 v-3.5 h-3.5 v-4 h3.5z" fill="#22c02a" stroke="#0c8a14" stroke-width="0.8"/>
<text x="37.5" y="20.3" font-size="12" fill="#000" textLength="35.5" lengthAdjust="spacingAndGlyphs" style="font-family:'Liberation Sans','Noto Sans CJK SC',sans-serif">新订单</text>
<defs><linearGradient id="gBook" x1="0" y1="0.2" x2="1" y2="0.8"><stop offset="0" stop-color="#c89418"/><stop offset="0.25" stop-color="#f4d030"/><stop offset="0.6" stop-color="#f8d838"/><stop offset="1" stop-color="#d8a020"/></linearGradient><linearGradient id="gCube" x1="0" y1="0" x2="1" y2="1"><stop offset="0" stop-color="#30a8ff"/><stop offset="1" stop-color="#0868d8"/></linearGradient><linearGradient id="gCloud" x1="0" y1="0" x2="0" y2="1"><stop offset="0" stop-color="#ffffff"/><stop offset="1" stop-color="#b8c8e8"/></linearGradient><linearGradient id="gHat" x1="0" y1="0" x2="0" y2="1"><stop offset="0" stop-color="#8cc8f0"/><stop offset="1" stop-color="#3888c8"/></linearGradient><linearGradient id="gFace" x1="0" y1="0" x2="1" y2="1"><stop offset="0" stop-color="#fff080"/><stop offset="1" stop-color="#e8a818"/></linearGradient></defs>
<path d="M85.8,19.6 l8.2,6 l8.3,-7 l-0.4,-2.2 l-7.9,6.4 l-7.6,-5z" fill="#9a6410"/><path d="M91.7,10.2 q0.8,1.2 0,2 l-5.4,6.8 l7.6,4.8 l7.8,-6 z" fill="url(#gBook)" stroke="#b07c14" stroke-width="0.7"/><path d="M94,23.2 l7.4,-5.6" stroke="#fff0b0" stroke-width="0.6"/>
<path d="M116.3,9.3 l3,-0.6 h7 v9.5 h-10z" fill="url(#gCube)"/><path d="M116.3,9.3 l2.6,2 h7.4 M118.9,11.3 v7" stroke="#a8dcff" stroke-width="0.7" fill="none"/><path d="M120.5,14 h4.5" stroke="#d8f0ff" stroke-width="1"/><path d="M116.6,24.6 a2.7,2.7 0 0 1 -0.2,-5.4 a3.6,3.6 0 0 1 6.6,-1.4 a3.2,3.2 0 0 1 4.6,2.2 a2.4,2.4 0 0 1 -0.2,4.6z" fill="url(#gCloud)" stroke="#6880b8" stroke-width="0.8"/>
<g fill="none"><path d="M150,9.6 a7.4,7.4 0 0 0 0,14.8" stroke="#a8bce8" stroke-width="1.1"/><path d="M150,9.6 a7.4,7.4 0 0 1 0,14.8" stroke="#a8c8a8" stroke-width="1.1"/><path d="M150,12.1 a4.9,4.9 0 0 0 0,9.8" stroke="#6088d8" stroke-width="1.2"/><path d="M150,12.1 a4.9,4.9 0 0 1 0,9.8" stroke="#88b890" stroke-width="1.2"/><path d="M150,14.6 a2.4,2.4 0 0 0 0,4.8" stroke="#3060c8" stroke-width="1.2"/><path d="M150,14.6 a2.4,2.4 0 0 1 0,4.8" stroke="#70a880" stroke-width="1.2"/></g><path d="M150.4,17 L150.4,24.6 A7.6,7.6 0 0 0 157,20.6z" fill="#68b868" opacity="0.75"/><path d="M150.4,17 v7.6" stroke="#20a020" stroke-width="1.2"/><circle cx="150" cy="16.6" r="1.6" fill="#2858c8"/>
<path d="M170.3,16.5 l13.5,-0.5 l-2.4,8 q-2.5,1.2 -5,0z" fill="url(#gFace)" stroke="#c89818" stroke-width="0.6"/><ellipse cx="177.2" cy="14.6" rx="7.8" ry="2.7" fill="url(#gHat)" stroke="#2c78b8" stroke-width="0.7"/><path d="M173,13.6 q0.4,-4.6 4.2,-4.6 q3.8,0 4.2,4.6 q-4.2,1.8 -8.4,0z" fill="url(#gHat)" stroke="#2c78b8" stroke-width="0.6"/><circle cx="181.8" cy="20.8" r="4.1" fill="#e02010" stroke="#b01008" stroke-width="0.6"/><rect x="180.1" y="19.1" width="3.4" height="3.4" fill="#fff"/>
<text x="191.5" y="20.3" font-size="12" fill="#000" textLength="45.5" lengthAdjust="spacingAndGlyphs" style="font-family:'Liberation Sans','Noto Sans CJK SC',sans-serif">自动交易</text>
<path d="M263.5,11 v13.5 M261,22.5 h13.5" stroke="#505050" stroke-width="1.1" fill="none"/><path d="M263.5,10 l-1.8,2.6 h3.6z M275.5,22.5 l-2.6,-1.8 v3.6z" fill="#505050"/>
<path d="M270.5,12 v9.5 M270.5,13.5 h2.5 M268,20 h2.5" stroke="#109020" stroke-width="1.4" fill="none"/>
<path d="M291.5,11 v13.5 M289,22.5 h13.5" stroke="#505050" stroke-width="1.1" fill="none"/><path d="M291.5,10 l-1.8,2.6 h3.6z M303.5,22.5 l-2.6,-1.8 v3.6z" fill="#505050"/>
<path d="M298,9.5 v11" stroke="#0a7a18" stroke-width="1"/><rect x="296" y="11.5" width="4" height="7" fill="#30d040" stroke="#0a7a18" stroke-width="0.9"/>
<path d="M319.5,11 v13.5 M317,22.5 h13.5" stroke="#505050" stroke-width="1.1" fill="none"/><path d="M319.5,10 l-1.8,2.6 h3.6z M331.5,22.5 l-2.6,-1.8 v3.6z" fill="#505050"/>
<path d="M318.5,20 q5,-8 7.5,-5.5 q2,1.5 4,3.8" stroke="#109020" stroke-width="1.3" fill="none"/>
<path d="M358.5,18.5 l6,5.6" stroke="#c8a018" stroke-width="2.6" stroke-linecap="round"/><circle cx="355" cy="15" r="5.3" fill="#d8ecfc" stroke="#3478d0" stroke-width="1.3"/><path d="M352,15 h6" stroke="#2c68c0" stroke-width="1.6"/>
<path d="M355,12 v6" stroke="#2c68c0" stroke-width="1.6"/>
<path d="M386.5,18.5 l6,5.6" stroke="#c8a018" stroke-width="2.6" stroke-linecap="round"/><circle cx="383" cy="15" r="5.3" fill="#d8ecfc" stroke="#3478d0" stroke-width="1.3"/><path d="M380,15 h6" stroke="#2c68c0" stroke-width="1.6"/>
<rect x="405" y="9" width="7.6" height="7.6" fill="#48a828"/><rect x="413.4" y="9" width="7.6" height="7.6" fill="#2868d0"/><rect x="405" y="17.4" width="7.6" height="7.6" fill="#2868d0"/><rect x="413.4" y="17.4" width="7.6" height="7.6" fill="#48a828"/><path d="M406.5,12.2h4.6 v3h-4.6z M414.9,12.2h4.6v3h-4.6z M406.5,20.6h4.6v3h-4.6z M414.9,20.6h4.6v3h-4.6z" fill="#e8f0ff" opacity="0.9"/>
<path d="M443.5,11 v13.5 M441,22.5 h13.5" stroke="#505050" stroke-width="1.1" fill="none"/><path d="M443.5,10 l-1.8,2.6 h3.6z M455.5,22.5 l-2.6,-1.8 v3.6z" fill="#505050"/>
<path d="M448.5,13 l4,3.4 l-4,3.4z" fill="#30c840" stroke="#108a20" stroke-width="0.8"/>
<path d="M471.5,11 v13.5 M469,22.5 h13.5" stroke="#505050" stroke-width="1.1" fill="none"/><path d="M471.5,10 l-1.8,2.6 h3.6z M483.5,22.5 l-2.6,-1.8 v3.6z" fill="#505050"/>
<path d="M477.5,11 v10" stroke="#2060a8" stroke-width="1.2"/><path d="M483,16.3 h-4.6 M480.4,14.3 l-2,2 l2,2" stroke="#d04010" stroke-width="1.1" fill="none"/>
<path d="M502.5,10.5 h3 v-1 h6 l3,3 v9 h-9 v2 h-3z" fill="#fff" stroke="#808080" stroke-width="0.9"/><path d="M510.5,15.5 h4 v3.5 h3.5 v4 h-3.5 v3.5 h-4 v-3.5 h-3.5 v-4 h3.5z" fill="#22c02a" stroke="#0c8a14" stroke-width="0.8"/><text x="504" y="18" font-size="8" font-family="Liberation Serif, serif" font-style="italic" fill="#606060">f</text>
<path d="M523.7,15.6 h5.6 l-2.8,3.2z" fill="#000"/>
<circle cx="548" cy="17" r="7.3" fill="#2868c8" stroke="#184898" stroke-width="0.8"/><circle cx="548" cy="17" r="5" fill="#f4f8ff"/><path d="M548,13.2 v4 h3" stroke="#404040" stroke-width="1" fill="none"/>
<path d="M562.7,15.6 h5.6 l-2.8,3.2z" fill="#000"/>
<rect x="579.5" y="10.5" width="15" height="13" fill="#f4f8ff" stroke="#3070c8" stroke-width="1"/><rect x="579.5" y="10.5" width="15" height="2.5" fill="#4a88d8"/><path d="M581,16.5 l3,-0.8 l2.5,-0.8 l2.5,0.6 l3,-1.2" stroke="#a02810" stroke-width="1.1" fill="none"/><path d="M581.5,21.5 l3,-1.2 l2.5,0.8 l2,-1.8 l3.5,2" stroke="#109020" stroke-width="1.1" fill="none"/><path d="M580,18.5 h14" stroke="#a8c0e0" stroke-width="0.8"/>
<path d="M601.7,15.6 h5.6 l-2.8,3.2z" fill="#000"/>
<path d="M631,10 v11.5 l2.8,-2.6 l2,4.6 l1.9,-0.9 l-2,-4.4 h3.8z" fill="#404040"/>
<path d="M663.5,10 v14.5 M656,17.3 h15" stroke="#404040" stroke-width="1.1"/><rect x="662.5" y="16.3" width="2" height="2" fill="#f0f0f0"/>
<path d="M697.5,11 v13" stroke="#404040" stroke-width="1.1"/><path d="M720,17.3 h12" stroke="#404040" stroke-width="1.1"/><path d="M747.5,23.8 l12.5,-12" stroke="#505050" stroke-width="1.1"/>
<path d="M774,20 l13,-9.5 M775,24 l13,-9.5 M776.5,22.5 l1.5,-5 M780,20.5 l1.5,-6 M783.5,18 l1.5,-6" stroke="#505050" stroke-width="1" fill="none"/><text x="784.3" y="25.8" font-size="6.5" font-weight="bold" font-family="Liberation Sans, sans-serif" fill="#303030">E</text>
<path d="M803,10.5 h13 M803,14 h13 M803,17.5 h13 M803,21.5 h10" stroke="#505050" stroke-width="1" stroke-dasharray="1 1"/><text x="812.3" y="25.8" font-size="6.5" font-weight="bold" font-family="Liberation Sans, sans-serif" fill="#303030">F</text>
<text x="833.5" y="22" font-size="12.5" font-family="Liberation Sans, sans-serif" fill="#505050">A</text>
<rect x="860" y="11" width="11.5" height="12.5" fill="none" stroke="#505050" stroke-width="1" stroke-dasharray="1 1"/><text x="861.8" y="22" font-size="11" font-weight="bold" font-family="Liberation Sans, sans-serif" fill="#505050">T</text>
<path d="M890.5,10.8 l3,3.4 h-6z M898,23.6 l-3,-3.4 h6z" fill="#404040"/><path d="M889,17 l2.5,2.5 l5,-5" stroke="#404040" stroke-width="1.3" fill="none"/>
<path d="M907.7,15.6 h5.6 l-2.8,3.2z" fill="#000"/>
<g font-family="Liberation Sans, sans-serif" fill="#404040">
<text x="934.5" y="20.7" font-size="9.5" fill="#404040" textLength="12.3" lengthAdjust="spacingAndGlyphs" stroke="#404040" stroke-width="0.2">M1</text>
<text x="962.5" y="20.7" font-size="9.5" fill="#404040" textLength="12.3" lengthAdjust="spacingAndGlyphs" stroke="#404040" stroke-width="0.2">M5</text>
<text x="988.5" y="20.7" font-size="9.5" fill="#404040" textLength="17.3" lengthAdjust="spacingAndGlyphs" stroke="#404040" stroke-width="0.2">M15</text>
<text x="1016.5" y="20.7" font-size="9.5" fill="#404040" textLength="17.3" lengthAdjust="spacingAndGlyphs" stroke="#404040" stroke-width="0.2">M30</text>
<text x="1047.5" y="20.7" font-size="9.5" fill="#404040" textLength="11.4" lengthAdjust="spacingAndGlyphs" stroke="#404040" stroke-width="0.2">H1</text>
<text x="1074.3" y="20.7" font-size="9.5" fill="#404040" textLength="11.4" lengthAdjust="spacingAndGlyphs" stroke="#404040" stroke-width="0.2">H4</text>
<text x="1103" y="20.7" font-size="9.5" fill="#404040" textLength="11.4" lengthAdjust="spacingAndGlyphs" stroke="#404040" stroke-width="0.2">D1</text>
<text x="1130.5" y="20.7" font-size="9.5" fill="#404040" textLength="13.5" lengthAdjust="spacingAndGlyphs" stroke="#404040" stroke-width="0.2">W1</text>
<text x="1157.5" y="20.7" font-size="9.5" fill="#404040" textLength="13.4" lengthAdjust="spacingAndGlyphs" stroke="#404040" stroke-width="0.2">MN</text>
</g>
<circle cx="1650.6" cy="14.4" r="3.9" fill="#f8faff" stroke="#2858c8" stroke-width="1.4"/><path d="M1647.6,17.4 l-4.6,4.4" stroke="#2858c8" stroke-width="2.4" stroke-linecap="round"/>
<path d="M1667.5,19 a6,5 0 1 1 6,5 l-3.5,2 l0.8,-2.4 a6,5 0 0 1 -3.3,-4.6z" fill="#e4e6ec" stroke="#b0b4bc" stroke-width="0.8"/><circle cx="1681.5" cy="14.5" r="8.3" fill="#dc3018"/><circle cx="1681.5" cy="13" r="6.5" fill="#e84830" opacity="0.5"/><text x="1678" y="19" font-size="12.5" font-weight="bold" font-family="Liberation Sans, sans-serif" fill="#fff">1</text>
</svg>
</body></html>
